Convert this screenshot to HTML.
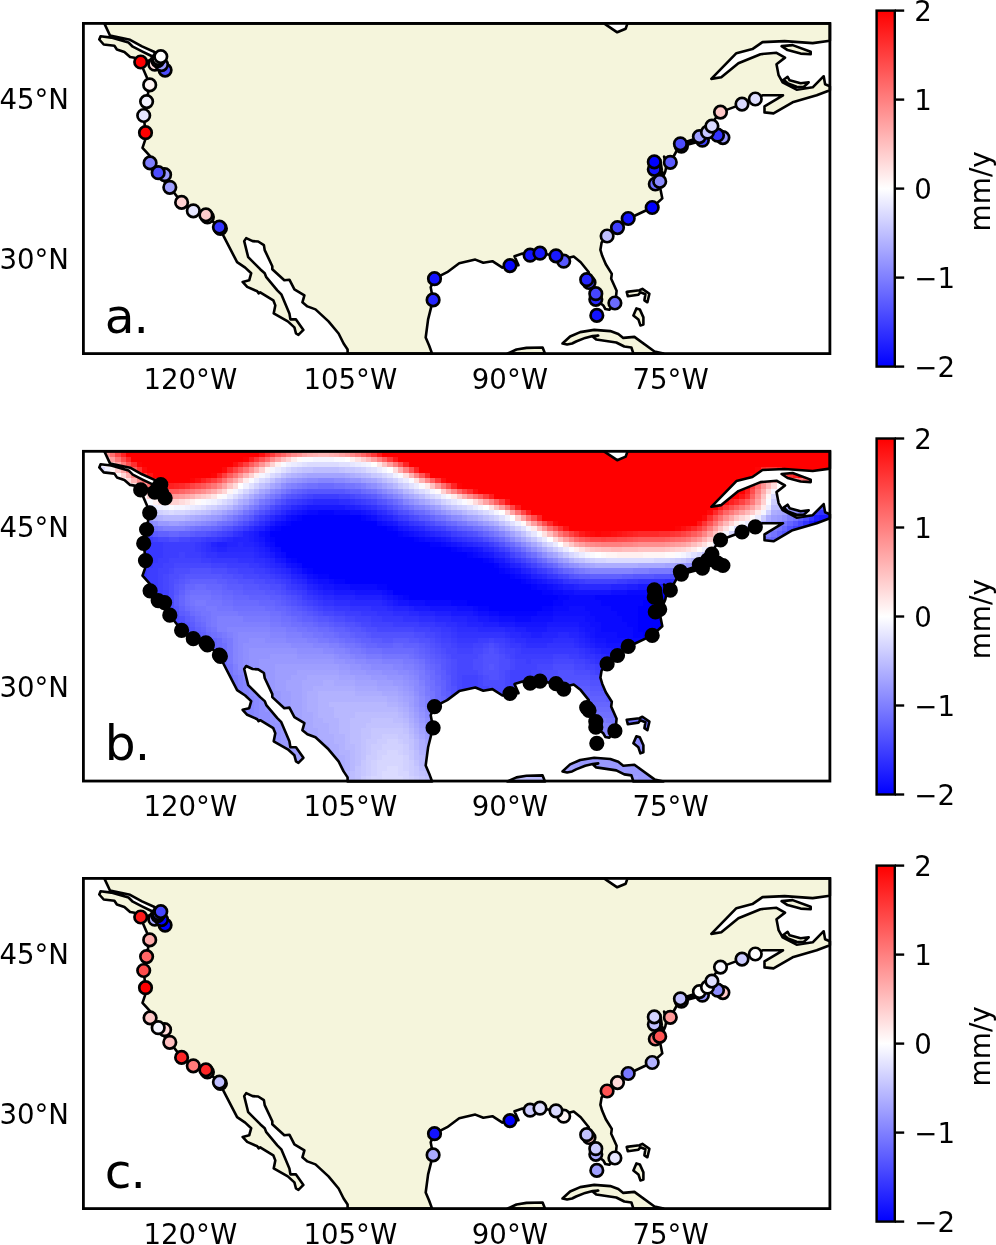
<!DOCTYPE html>
<html lang="en"><head><meta charset="utf-8"><title>Vertical land motion maps</title>
<style>html,body{margin:0;padding:0;background:#fff}svg{display:block}text{font-family:"DejaVu Sans","Liberation Sans",sans-serif;fill:#000}.t{font-size:27.60px}.big{font-size:48.6px}</style></head><body>
<svg width="996" height="1245" viewBox="0 0 996 1245">
<defs>
<path id="land" d="M104.3 23.4 110 35.5 130.1 39.8 142 46.4 154.5 52 161 56 165 62 166.5 70 160 68 152 64 141 62 143.2 68.9 147 77.7 149.5 84.6 146.6 101.6 143.7 115.5 145.5 132.7 145.1 140.2 142.5 147.8 150.1 156.2 150.1 162.9 158.2 172.7 163 180 169.8 187.3 181.6 202.4 193.3 210.8 205.9 214.9 211 220 219.4 227.1 223.1 235.1 237.1 262.2 245.2 267.6 251.2 273.2 249.2 280.3 242.6 281.9 247.2 286.9 257.2 291.3 258.6 293.3 260.2 292.3 273.3 300.3 275.3 305.4 273.7 313.4 287.8 321.4 294.4 327.4 296 333.5 298.4 334.9 303.4 329.9 296 319.4 290.4 319.4 289.4 313.4 281.3 294.3 277.3 290.3 266.3 277.2 264.7 273.2 260.2 269.2 248.2 257.2 244.2 241.1 246.2 238.1 252.6 241.1 258.2 241.5 263.9 245.1 264.7 250.1 272.3 266.2 272.3 269.2 284.3 280.3 289.4 279.7 294.4 289.3 304.4 295.3 302.4 302.3 307.4 306.4 315.5 309.4 328.5 321.4 338.6 333.5 343.6 343.5 347.6 349.5 347.6 353.6 432.1 353.6 429.1 345.5 425.7 337.5 428.1 319.4 431.1 307.4 433.1 299.9 430.7 287.3 434.5 278.7 447.2 272.2 459.2 263.2 475.3 259.6 483.3 262.8 492.4 261.2 502.4 267.6 510 265.6 518.5 265.2 514.5 256.2 522.5 253.6 530.1 255.2 540 253.2 556 255.8 563.7 259 573.7 256.6 580.7 262.2 588.8 272.2 586.8 279.5 596.8 293.5 596.8 300.3 603.3 305.4 605.3 309 609.3 309.8 614.9 303 616 296.8 616.6 290.8 611.2 278.7 611.8 273.9 605.8 264.3 602.2 255.8 600.4 249.8 601.6 242.6 606.9 236.1 617.4 227.7 628.3 218.8 652.2 207.5 662.3 198.4 660.3 188.4 659.7 181.4 660.6 176.5 659.8 170.5 659 165 658.8 160 660.3 160 661.1 165 661.9 170.5 663.3 176.3 665.3 171.5 666.3 166.5 665.3 161.5 664.1 156.6 666.5 159.5 669 164 670.3 162.3 676 152 680.4 143.8 690 140.5 699.4 137.5 707.5 134.5 714 136.5 719 134 724.5 138.5 725 133 718 129 711.9 126.1 715 119 720.5 112.1 742 104.1 755.3 99 762.5 95.3 783 95.3 764.5 106.4 764.5 112.4 773.5 113.4 792.6 102.3 816.7 95.3 829.9 90.3 829.9 86.3 825.1 84.3 823.7 76.2 812.7 87.3 796.6 89.7 782.6 82.3 778.6 75.2 776.5 64.2 785 57.6 776.5 52.8 760.5 54.2 738.4 63.2 721.3 77.2 711.3 78.9 736.4 53.2 752.4 49.1 762.5 42.1 784.6 41.1 812.7 43.1 829.9 40.7 829.9 23.4 627.5 23.4 625.7 28.7 617.2 32.3 604 23.4ZM100.6 36.3 99.3 39.5 103.7 44.5 114.4 45.7 116.9 49.5 124.4 52 130.1 57 134.5 57.7 140.7 62 146 61.5 150.5 60 152.5 57 151.5 56 142 51.4 132.8 46.7 128.5 42.5 111.2 37.6ZM562.5 343.5 570.1 336.5 580.2 332.1 594.2 329.9 610.3 331.1 618.3 333.9 623.3 337.9 634.4 336.9 654.5 351.5 663.5 353.6 633.4 353.6 631.4 347.5 624.3 346.5 616.3 342.5 596.2 339.5 593.2 336.9 598.2 335.5 592.6 336.1 585.2 337.9 576.1 341.5 572.1 343.5 567.1 344.5ZM507.4 353.6 516.5 349.5 526.5 347.9 542.6 347.5 545 353.6ZM781.6 46.1 792.6 45.1 810.7 51.7 810.7 54.2 800.6 53.6 787.6 50.1ZM783.6 79.7 787.6 76.8 789.6 80.3 800.6 83.3 808.7 82.3 803.7 87 796.6 86.8 788 83.5ZM681 146.5 690 144 699.4 141.5 703 139.5 694 140.8 685 143.5ZM626.7 291.9 639.4 290.3 642.4 288.9 649.4 293.7 647.4 302.3 644.4 300.3 645.4 294.3 640.4 292.3 638.4 294.7 627.8 296.3ZM636.4 308.4 639.8 309.4 643.4 317.4 643.4 324.4 640.4 325.4 638.4 319.4 633.4 315.4Z"/>
<clipPath id="landclip"><use href="#land"/></clipPath>
<linearGradient id="bwr" x1="0" y1="0" x2="0" y2="1"><stop offset="0" stop-color="#ff0000"/><stop offset="0.5" stop-color="#ffffff"/><stop offset="1" stop-color="#0000ff"/></linearGradient>
</defs>
<rect width="996" height="1245" fill="#fff"/>
<g transform="translate(0 0)">
<use href="#land" fill="#f5f5dc" stroke="#000" stroke-width="2.6" stroke-linejoin="round"/>
<g stroke="#000" stroke-width="2.7">
<circle cx="165.1" cy="70.1" r="6.25" fill="#4d4dff"/>
<circle cx="154.8" cy="64.2" r="6.25" fill="#ffdfdf"/>
<circle cx="161.5" cy="64.6" r="6.25" fill="#9999ff"/>
<circle cx="157.7" cy="60.6" r="6.25" fill="#ffffff"/>
<circle cx="158.8" cy="58.7" r="6.25" fill="#ffffff"/>
<circle cx="160.8" cy="56.6" r="6.25" fill="#ffffff"/>
<circle cx="140.7" cy="62" r="6.25" fill="#ff0000"/>
<circle cx="149.7" cy="84.9" r="6.25" fill="#fff5f5"/>
<circle cx="146.6" cy="101.6" r="6.25" fill="#f2f2ff"/>
<circle cx="143.7" cy="115.5" r="6.25" fill="#e6e6ff"/>
<circle cx="145.5" cy="132.7" r="6.25" fill="#ff0000"/>
<circle cx="150.1" cy="162.9" r="6.25" fill="#8080ff"/>
<circle cx="164.6" cy="174.7" r="6.25" fill="#9999ff"/>
<circle cx="158.2" cy="172.7" r="6.25" fill="#4d4dff"/>
<circle cx="169.8" cy="187.3" r="6.25" fill="#9f9fff"/>
<circle cx="181.6" cy="202.4" r="6.25" fill="#ffd2d2"/>
<circle cx="193.3" cy="210.8" r="6.25" fill="#e6e6ff"/>
<circle cx="207.4" cy="217" r="6.25" fill="#ffffff"/>
<circle cx="205.9" cy="214.9" r="6.25" fill="#ffcccc"/>
<circle cx="220.4" cy="228.4" r="6.25" fill="#3333ff"/>
<circle cx="219.4" cy="227.1" r="6.25" fill="#3333ff"/>
<circle cx="434.5" cy="278.7" r="6.25" fill="#1313ff"/>
<circle cx="433.1" cy="299.9" r="6.25" fill="#2626ff"/>
<circle cx="510" cy="265.6" r="6.25" fill="#0606ff"/>
<circle cx="530.1" cy="255.2" r="6.25" fill="#1313ff"/>
<circle cx="540" cy="253.2" r="6.25" fill="#1919ff"/>
<circle cx="563.7" cy="261.2" r="6.25" fill="#5959ff"/>
<circle cx="556" cy="255.8" r="6.25" fill="#1919ff"/>
<circle cx="589" cy="282.5" r="6.25" fill="#4040ff"/>
<circle cx="586.7" cy="279.7" r="6.25" fill="#2626ff"/>
<circle cx="595.8" cy="299.3" r="6.25" fill="#2626ff"/>
<circle cx="595.8" cy="293.7" r="6.25" fill="#4646ff"/>
<circle cx="596.8" cy="315.4" r="6.25" fill="#1313ff"/>
<circle cx="614.9" cy="303" r="6.25" fill="#6c6cff"/>
<circle cx="607.1" cy="236" r="6.25" fill="#bfbfff"/>
<circle cx="617.5" cy="227.6" r="6.25" fill="#4040ff"/>
<circle cx="628.2" cy="218.5" r="6.25" fill="#1313ff"/>
<circle cx="652.2" cy="207.5" r="6.25" fill="#0000ff"/>
<circle cx="655.3" cy="184" r="6.25" fill="#6c6cff"/>
<circle cx="659.7" cy="181.4" r="6.25" fill="#8c8cff"/>
<circle cx="654.3" cy="169.3" r="6.25" fill="#1313ff"/>
<circle cx="654.3" cy="161.9" r="6.25" fill="#0000ff"/>
<circle cx="670.3" cy="162.3" r="6.25" fill="#5959ff"/>
<circle cx="681.4" cy="146.2" r="6.25" fill="#3333ff"/>
<circle cx="680.4" cy="143.8" r="6.25" fill="#4d4dff"/>
<circle cx="702.4" cy="140.2" r="6.25" fill="#4040ff"/>
<circle cx="699.4" cy="136.6" r="6.25" fill="#9f9fff"/>
<circle cx="722.9" cy="137.6" r="6.25" fill="#9999ff"/>
<circle cx="717.5" cy="135.2" r="6.25" fill="#3333ff"/>
<circle cx="707.5" cy="132.2" r="6.25" fill="#c6c6ff"/>
<circle cx="711.9" cy="126.1" r="6.25" fill="#d9d9ff"/>
<circle cx="720.5" cy="112.1" r="6.25" fill="#ffc8c8"/>
<circle cx="742" cy="104.1" r="6.25" fill="#d9d9ff"/>
<circle cx="755.3" cy="99" r="6.25" fill="#dfdfff"/>
</g>
<rect x="83.4" y="23.4" width="746.5" height="330.2" fill="none" stroke="#000" stroke-width="2.8"/>
<text class="t" x="69.0" y="109.1" text-anchor="end">45°N</text>
<text class="t" x="69.0" y="269.1" text-anchor="end">30°N</text>
<text class="t" x="190.3" y="389.4" text-anchor="middle">120°W</text>
<text class="t" x="350.3" y="389.4" text-anchor="middle">105°W</text>
<text class="t" x="509.9" y="389.4" text-anchor="middle">90°W</text>
<text class="t" x="670.6" y="389.4" text-anchor="middle">75°W</text>
<text class="big" x="104.8" y="332.8">a<tspan dx="-1">.</tspan></text>
<rect x="876.6" y="10.6" width="18.2" height="356" fill="url(#bwr)" stroke="#000" stroke-width="2.4"/>
<path d="M894.8 10.6h9.4" stroke="#000" stroke-width="2.4"/>
<text class="t" x="914.3" y="20.9">2</text>
<path d="M894.8 99.6h9.4" stroke="#000" stroke-width="2.4"/>
<text class="t" x="914.3" y="109.9">1</text>
<path d="M894.8 188.6h9.4" stroke="#000" stroke-width="2.4"/>
<text class="t" x="914.3" y="198.9">0</text>
<path d="M894.8 277.6h9.4" stroke="#000" stroke-width="2.4"/>
<text class="t" x="914.3" y="287.9">−1</text>
<path d="M894.8 366.6h9.4" stroke="#000" stroke-width="2.4"/>
<text class="t" x="914.3" y="376.9">−2</text>
<text class="t" transform="translate(989.7 191.3) rotate(-90)" style="font-size:27.9px" text-anchor="middle">mm/y</text>
</g>
<g transform="translate(0 427.9)">
<g clip-path="url(#landclip)" shape-rendering="crispEdges"><path fill="#0000ff" d="M302.02 87.31H360.67V92.64H302.02zM291.35 92.64H376.67V97.96H291.35zM280.69 97.96H387.33V103.29H280.69zM270.02 103.29H398V108.61H270.02zM275.36 108.61H413.99V113.94H275.36zM275.36 113.94H429.99V119.26H275.36zM280.69 119.26H451.32V124.59H280.69zM286.02 124.59H467.31V129.92H286.02zM296.69 129.92H483.31V135.24H296.69zM302.02 135.24H493.98V140.57H302.02zM312.68 140.57H499.31V145.89H312.68zM328.68 145.89H509.97V151.22H328.68zM344.68 151.22H520.64V156.55H344.68zM387.33 156.55H531.3V161.87H387.33zM392.66 161.87H541.96V167.2H392.66zM408.66 167.2H557.96V172.52H408.66zM648.61 167.2H739.25V172.52H648.61zM467.31 172.52H552.63V177.85H467.31zM643.27 172.52H739.25V177.85H643.27zM488.64 177.85H541.96V183.17H488.64zM637.94 177.85H733.92V183.17H637.94zM637.94 183.17H733.92V188.5H637.94zM637.94 188.5H728.59V193.83H637.94zM637.94 193.83H723.26V199.15H637.94zM637.94 199.15H712.59V204.48H637.94zM643.27 204.48H696.6V209.8H643.27z"/><path fill="#0505ff" d="M318.01 81.98H334.01V87.31H318.01zM296.69 87.31H302.02V92.64H296.69zM360.67 87.31H366V92.64H360.67zM286.02 92.64H291.35V97.96H286.02zM275.36 97.96H280.69V103.29H275.36zM387.33 97.96H392.66V103.29H387.33zM398 103.29H403.33V108.61H398zM270.02 108.61H275.36V113.94H270.02zM413.99 108.61H419.33V113.94H413.99zM429.99 113.94H440.65V119.26H429.99zM451.32 119.26H456.65V124.59H451.32zM467.31 124.59H472.65V129.92H467.31zM291.35 129.92H296.69V135.24H291.35zM483.31 129.92H488.64V135.24H483.31zM493.98 135.24H499.31V140.57H493.98zM307.35 140.57H312.68V145.89H307.35zM499.31 140.57H504.64V145.89H499.31zM318.01 145.89H328.68V151.22H318.01zM509.97 145.89H515.3V151.22H509.97zM334.01 151.22H344.68V156.55H334.01zM520.64 151.22H525.97V156.55H520.64zM376.67 156.55H387.33V161.87H376.67zM531.3 156.55H536.63V161.87H531.3zM541.96 161.87H552.63V167.2H541.96zM659.27 161.87H691.26V167.2H659.27zM403.33 167.2H408.66V172.52H403.33zM557.96 167.2H568.62V172.52H557.96zM595.29 167.2H648.61V172.52H595.29zM451.32 172.52H467.31V177.85H451.32zM552.63 172.52H563.29V177.85H552.63zM600.62 172.52H643.27V177.85H600.62zM477.98 177.85H488.64V183.17H477.98zM541.96 177.85H552.63V183.17H541.96zM611.28 177.85H637.94V183.17H611.28zM499.31 183.17H536.63V188.5H499.31zM616.61 183.17H637.94V188.5H616.61zM621.95 188.5H637.94V193.83H621.95zM627.28 193.83H637.94V199.15H627.28zM632.61 199.15H637.94V204.48H632.61zM632.61 204.48H643.27V209.8H632.61zM643.27 209.8H653.94V215.13H643.27z"/><path fill="#0a0aff" d="M307.35 81.98H318.01V87.31H307.35zM334.01 81.98H350.01V87.31H334.01zM291.35 87.31H296.69V92.64H291.35zM366 87.31H371.34V92.64H366zM280.69 92.64H286.02V97.96H280.69zM376.67 92.64H382V97.96H376.67zM813.9 92.64H829.9V97.96H813.9zM270.02 97.96H275.36V103.29H270.02zM392.66 97.96H398V103.29H392.66zM264.69 103.29H270.02V108.61H264.69zM403.33 103.29H408.66V108.61H403.33zM264.69 108.61H270.02V113.94H264.69zM419.33 108.61H424.66V113.94H419.33zM270.02 113.94H275.36V119.26H270.02zM440.65 113.94H445.99V119.26H440.65zM275.36 119.26H280.69V124.59H275.36zM456.65 119.26H461.98V124.59H456.65zM280.69 124.59H286.02V129.92H280.69zM472.65 124.59H477.98V129.92H472.65zM286.02 129.92H291.35V135.24H286.02zM488.64 129.92H493.98V135.24H488.64zM296.69 135.24H302.02V140.57H296.69zM302.02 140.57H307.35V145.89H302.02zM504.64 140.57H509.97V145.89H504.64zM312.68 145.89H318.01V151.22H312.68zM515.3 145.89H520.64V151.22H515.3zM328.68 151.22H334.01V156.55H328.68zM525.97 151.22H531.3V156.55H525.97zM350.01 156.55H376.67V161.87H350.01zM536.63 156.55H547.3V161.87H536.63zM387.33 161.87H392.66V167.2H387.33zM552.63 161.87H563.29V167.2H552.63zM627.28 161.87H659.27V167.2H627.28zM398 167.2H403.33V172.52H398zM568.62 167.2H595.29V172.52H568.62zM424.66 172.52H451.32V177.85H424.66zM563.29 172.52H600.62V177.85H563.29zM472.65 177.85H477.98V183.17H472.65zM552.63 177.85H568.62V183.17H552.63zM584.62 177.85H611.28V183.17H584.62zM488.64 183.17H499.31V188.5H488.64zM536.63 183.17H552.63V188.5H536.63zM589.95 183.17H616.61V188.5H589.95zM515.3 188.5H531.3V193.83H515.3zM595.29 188.5H621.95V193.83H595.29zM600.62 193.83H627.28V199.15H600.62zM600.62 199.15H632.61V204.48H600.62zM616.61 204.48H632.61V209.8H616.61zM627.28 209.8H643.27V215.13H627.28z"/><path fill="#0f0fff" d="M302.02 81.98H307.35V87.31H302.02zM350.01 81.98H360.67V87.31H350.01zM286.02 87.31H291.35V92.64H286.02zM371.34 87.31H376.67V92.64H371.34zM275.36 92.64H280.69V97.96H275.36zM382 92.64H387.33V97.96H382zM259.36 103.29H264.69V108.61H259.36zM408.66 103.29H413.99V108.61H408.66zM424.66 108.61H435.32V113.94H424.66zM264.69 113.94H270.02V119.26H264.69zM445.99 113.94H451.32V119.26H445.99zM270.02 119.26H275.36V124.59H270.02zM461.98 119.26H472.65V124.59H461.98zM275.36 124.59H280.69V129.92H275.36zM477.98 124.59H483.31V129.92H477.98zM291.35 135.24H296.69V140.57H291.35zM499.31 135.24H504.64V140.57H499.31zM509.97 140.57H515.3V145.89H509.97zM307.35 145.89H312.68V151.22H307.35zM520.64 145.89H525.97V151.22H520.64zM318.01 151.22H328.68V156.55H318.01zM531.3 151.22H536.63V156.55H531.3zM334.01 156.55H350.01V161.87H334.01zM547.3 156.55H552.63V161.87H547.3zM382 161.87H387.33V167.2H382zM563.29 161.87H573.96V167.2H563.29zM611.28 161.87H627.28V167.2H611.28zM392.66 167.2H398V172.52H392.66zM408.66 172.52H424.66V177.85H408.66zM456.65 177.85H472.65V183.17H456.65zM568.62 177.85H584.62V183.17H568.62zM477.98 183.17H488.64V188.5H477.98zM552.63 183.17H589.95V188.5H552.63zM499.31 188.5H515.3V193.83H499.31zM531.3 188.5H552.63V193.83H531.3zM584.62 188.5H595.29V193.83H584.62zM589.95 193.83H600.62V199.15H589.95zM595.29 199.15H600.62V204.48H595.29zM595.29 204.48H616.61V209.8H595.29zM605.95 209.8H627.28V215.13H605.95zM627.28 215.13H637.94V220.45H627.28z"/><path fill="#1414ff" d="M296.69 81.98H302.02V87.31H296.69zM360.67 81.98H366V87.31H360.67zM387.33 92.64H392.66V97.96H387.33zM264.69 97.96H270.02V103.29H264.69zM398 97.96H403.33V103.29H398zM413.99 103.29H419.33V108.61H413.99zM259.36 108.61H264.69V113.94H259.36zM435.32 108.61H440.65V113.94H435.32zM451.32 113.94H456.65V119.26H451.32zM472.65 119.26H477.98V124.59H472.65zM483.31 124.59H488.64V129.92H483.31zM280.69 129.92H286.02V135.24H280.69zM493.98 129.92H499.31V135.24H493.98zM286.02 135.24H291.35V140.57H286.02zM504.64 135.24H509.97V140.57H504.64zM296.69 140.57H302.02V145.89H296.69zM515.3 140.57H520.64V145.89H515.3zM525.97 145.89H531.3V151.22H525.97zM312.68 151.22H318.01V156.55H312.68zM536.63 151.22H541.96V156.55H536.63zM323.35 156.55H334.01V161.87H323.35zM552.63 156.55H557.96V161.87H552.63zM669.94 156.55H685.93V161.87H669.94zM355.34 161.87H382V167.2H355.34zM573.96 161.87H611.28V167.2H573.96zM387.33 167.2H392.66V172.52H387.33zM398 172.52H408.66V177.85H398zM429.99 177.85H456.65V183.17H429.99zM472.65 183.17H477.98V188.5H472.65zM488.64 188.5H499.31V193.83H488.64zM552.63 188.5H584.62V193.83H552.63zM515.3 193.83H547.3V199.15H515.3zM579.29 193.83H589.95V199.15H579.29zM584.62 199.15H595.29V204.48H584.62zM589.95 204.48H595.29V209.8H589.95zM595.29 209.8H605.95V215.13H595.29zM605.95 215.13H627.28V220.45H605.95z"/><path fill="#1919ff" d="M307.35 76.66H344.68V81.98H307.35zM291.35 81.98H296.69V87.31H291.35zM366 81.98H371.34V87.31H366zM280.69 87.31H286.02V92.64H280.69zM376.67 87.31H382V92.64H376.67zM819.24 87.31H829.9V92.64H819.24zM270.02 92.64H275.36V97.96H270.02zM392.66 92.64H398V97.96H392.66zM403.33 97.96H408.66V103.29H403.33zM254.03 103.29H259.36V108.61H254.03zM419.33 103.29H424.66V108.61H419.33zM254.03 108.61H259.36V113.94H254.03zM440.65 108.61H445.99V113.94H440.65zM259.36 113.94H264.69V119.26H259.36zM456.65 113.94H461.98V119.26H456.65zM264.69 119.26H270.02V124.59H264.69zM477.98 119.26H483.31V124.59H477.98zM270.02 124.59H275.36V129.92H270.02zM488.64 124.59H493.98V129.92H488.64zM275.36 129.92H280.69V135.24H275.36zM499.31 129.92H504.64V135.24H499.31zM291.35 140.57H296.69V145.89H291.35zM302.02 145.89H307.35V151.22H302.02zM307.35 151.22H312.68V156.55H307.35zM541.96 151.22H547.3V156.55H541.96zM318.01 156.55H323.35V161.87H318.01zM557.96 156.55H563.29V161.87H557.96zM637.94 156.55H669.94V161.87H637.94zM334.01 161.87H355.34V167.2H334.01zM382 167.2H387.33V172.52H382zM392.66 172.52H398V177.85H392.66zM413.99 177.85H429.99V183.17H413.99zM451.32 183.17H472.65V188.5H451.32zM477.98 188.5H488.64V193.83H477.98zM499.31 193.83H515.3V199.15H499.31zM547.3 193.83H579.29V199.15H547.3zM525.97 199.15H547.3V204.48H525.97zM579.29 199.15H584.62V204.48H579.29zM584.62 204.48H589.95V209.8H584.62zM589.95 209.8H595.29V215.13H589.95zM595.29 215.13H605.95V220.45H595.29zM611.28 220.45H627.28V225.78H611.28z"/><path fill="#1f1fff" d="M302.02 76.66H307.35V81.98H302.02zM344.68 76.66H355.34V81.98H344.68zM286.02 81.98H291.35V87.31H286.02zM371.34 81.98H376.67V87.31H371.34zM275.36 87.31H280.69V92.64H275.36zM382 87.31H387.33V92.64H382zM813.9 87.31H819.24V92.64H813.9zM808.57 92.64H813.9V97.96H808.57zM259.36 97.96H264.69V103.29H259.36zM408.66 97.96H413.99V103.29H408.66zM803.24 97.96H808.57V103.29H803.24zM248.7 103.29H254.03V108.61H248.7zM424.66 103.29H429.99V108.61H424.66zM248.7 108.61H254.03V113.94H248.7zM445.99 108.61H451.32V113.94H445.99zM216.7 113.94H227.37V119.26H216.7zM254.03 113.94H259.36V119.26H254.03zM461.98 113.94H467.31V119.26H461.98zM259.36 119.26H264.69V124.59H259.36zM264.69 124.59H270.02V129.92H264.69zM280.69 135.24H286.02V140.57H280.69zM509.97 135.24H515.3V140.57H509.97zM520.64 140.57H525.97V145.89H520.64zM296.69 145.89H302.02V151.22H296.69zM531.3 145.89H536.63V151.22H531.3zM547.3 151.22H552.63V156.55H547.3zM312.68 156.55H318.01V161.87H312.68zM563.29 156.55H573.96V161.87H563.29zM627.28 156.55H637.94V161.87H627.28zM323.35 161.87H334.01V167.2H323.35zM355.34 167.2H382V172.52H355.34zM387.33 172.52H392.66V177.85H387.33zM408.66 177.85H413.99V183.17H408.66zM435.32 183.17H451.32V188.5H435.32zM467.31 188.5H477.98V193.83H467.31zM483.31 193.83H499.31V199.15H483.31zM515.3 199.15H525.97V204.48H515.3zM547.3 199.15H579.29V204.48H547.3zM531.3 204.48H541.96V209.8H531.3zM579.29 204.48H584.62V209.8H579.29zM584.62 209.8H589.95V215.13H584.62zM589.95 215.13H595.29V220.45H589.95zM600.62 220.45H611.28V225.78H600.62zM616.61 225.78H627.28V231.11H616.61z"/><path fill="#2424ff" d="M296.69 76.66H302.02V81.98H296.69zM355.34 76.66H360.67V81.98H355.34zM387.33 87.31H392.66V92.64H387.33zM264.69 92.64H270.02V97.96H264.69zM398 92.64H403.33V97.96H398zM254.03 97.96H259.36V103.29H254.03zM413.99 97.96H419.33V103.29H413.99zM243.36 103.29H248.7V108.61H243.36zM429.99 103.29H435.32V108.61H429.99zM232.7 108.61H248.7V113.94H232.7zM211.37 113.94H216.7V119.26H211.37zM227.37 113.94H238.03V119.26H227.37zM243.36 113.94H254.03V119.26H243.36zM467.31 113.94H472.65V119.26H467.31zM216.7 119.26H227.37V124.59H216.7zM254.03 119.26H259.36V124.59H254.03zM483.31 119.26H488.64V124.59H483.31zM259.36 124.59H264.69V129.92H259.36zM493.98 124.59H499.31V129.92H493.98zM270.02 129.92H275.36V135.24H270.02zM504.64 129.92H509.97V135.24H504.64zM275.36 135.24H280.69V140.57H275.36zM515.3 135.24H520.64V140.57H515.3zM286.02 140.57H291.35V145.89H286.02zM525.97 140.57H531.3V145.89H525.97zM291.35 145.89H296.69V151.22H291.35zM536.63 145.89H541.96V151.22H536.63zM302.02 151.22H307.35V156.55H302.02zM552.63 151.22H557.96V156.55H552.63zM307.35 156.55H312.68V161.87H307.35zM573.96 156.55H579.29V161.87H573.96zM611.28 156.55H627.28V161.87H611.28zM318.01 161.87H323.35V167.2H318.01zM334.01 167.2H355.34V172.52H334.01zM382 172.52H387.33V177.85H382zM392.66 177.85H408.66V183.17H392.66zM419.33 183.17H435.32V188.5H419.33zM451.32 188.5H467.31V193.83H451.32zM467.31 193.83H483.31V199.15H467.31zM504.64 199.15H515.3V204.48H504.64zM520.64 204.48H531.3V209.8H520.64zM541.96 204.48H557.96V209.8H541.96zM568.62 204.48H579.29V209.8H568.62zM579.29 209.8H584.62V215.13H579.29zM584.62 215.13H589.95V220.45H584.62zM595.29 220.45H600.62V225.78H595.29zM605.95 225.78H616.61V231.11H605.95z"/><path fill="#2929ff" d="M312.68 71.33H339.34V76.66H312.68zM291.35 76.66H296.69V81.98H291.35zM360.67 76.66H366V81.98H360.67zM280.69 81.98H286.02V87.31H280.69zM376.67 81.98H382V87.31H376.67zM270.02 87.31H275.36V92.64H270.02zM403.33 92.64H408.66V97.96H403.33zM419.33 97.96H424.66V103.29H419.33zM435.32 103.29H440.65V108.61H435.32zM227.37 108.61H232.7V113.94H227.37zM451.32 108.61H456.65V113.94H451.32zM238.03 113.94H243.36V119.26H238.03zM472.65 113.94H477.98V119.26H472.65zM211.37 119.26H216.7V124.59H211.37zM227.37 119.26H254.03V124.59H227.37zM488.64 119.26H493.98V124.59H488.64zM254.03 124.59H259.36V129.92H254.03zM499.31 124.59H504.64V129.92H499.31zM264.69 129.92H270.02V135.24H264.69zM270.02 135.24H275.36V140.57H270.02zM280.69 140.57H286.02V145.89H280.69zM541.96 145.89H547.3V151.22H541.96zM296.69 151.22H302.02V156.55H296.69zM557.96 151.22H563.29V156.55H557.96zM579.29 156.55H611.28V161.87H579.29zM312.68 161.87H318.01V167.2H312.68zM323.35 167.2H334.01V172.52H323.35zM350.01 172.52H382V177.85H350.01zM387.33 177.85H392.66V183.17H387.33zM408.66 183.17H419.33V188.5H408.66zM435.32 188.5H451.32V193.83H435.32zM456.65 193.83H467.31V199.15H456.65zM477.98 199.15H504.64V204.48H477.98zM509.97 204.48H520.64V209.8H509.97zM557.96 204.48H568.62V209.8H557.96zM525.97 209.8H552.63V215.13H525.97zM573.96 209.8H579.29V215.13H573.96zM579.29 215.13H584.62V220.45H579.29zM589.95 220.45H595.29V225.78H589.95zM600.62 225.78H605.95V231.11H600.62zM611.28 231.11H621.95V236.43H611.28z"/><path fill="#2e2eff" d="M307.35 71.33H312.68V76.66H307.35zM339.34 71.33H350.01V76.66H339.34zM366 76.66H371.34V81.98H366zM382 81.98H387.33V87.31H382zM392.66 87.31H398V92.64H392.66zM259.36 92.64H264.69V97.96H259.36zM248.7 97.96H254.03V103.29H248.7zM238.03 103.29H243.36V108.61H238.03zM440.65 103.29H445.99V108.61H440.65zM222.04 108.61H227.37V113.94H222.04zM456.65 108.61H461.98V113.94H456.65zM206.04 113.94H211.37V119.26H206.04zM477.98 113.94H483.31V119.26H477.98zM206.04 119.26H211.37V124.59H206.04zM216.7 124.59H254.03V129.92H216.7zM254.03 129.92H264.69V135.24H254.03zM509.97 129.92H515.3V135.24H509.97zM264.69 135.24H270.02V140.57H264.69zM520.64 135.24H525.97V140.57H520.64zM275.36 140.57H280.69V145.89H275.36zM531.3 140.57H536.63V145.89H531.3zM286.02 145.89H291.35V151.22H286.02zM291.35 151.22H296.69V156.55H291.35zM664.6 151.22H680.6V156.55H664.6zM302.02 156.55H307.35V161.87H302.02zM307.35 161.87H312.68V167.2H307.35zM318.01 167.2H323.35V172.52H318.01zM334.01 172.52H350.01V177.85H334.01zM371.34 177.85H387.33V183.17H371.34zM392.66 183.17H408.66V188.5H392.66zM419.33 188.5H435.32V193.83H419.33zM445.99 193.83H456.65V199.15H445.99zM456.65 199.15H477.98V204.48H456.65zM504.64 204.48H509.97V209.8H504.64zM515.3 209.8H525.97V215.13H515.3zM552.63 209.8H573.96V215.13H552.63zM525.97 215.13H547.3V220.45H525.97zM573.96 215.13H579.29V220.45H573.96zM584.62 220.45H589.95V225.78H584.62zM595.29 225.78H600.62V231.11H595.29zM605.95 231.11H611.28V236.43H605.95z"/><path fill="#3333ff" d="M302.02 71.33H307.35V76.66H302.02zM350.01 71.33H355.34V76.66H350.01zM286.02 76.66H291.35V81.98H286.02zM371.34 76.66H376.67V81.98H371.34zM275.36 81.98H280.69V87.31H275.36zM819.24 81.98H829.9V87.31H819.24zM264.69 87.31H270.02V92.64H264.69zM808.57 87.31H813.9V92.64H808.57zM408.66 92.64H413.99V97.96H408.66zM803.24 92.64H808.57V97.96H803.24zM424.66 97.96H429.99V103.29H424.66zM797.91 97.96H803.24V103.29H797.91zM232.7 103.29H238.03V108.61H232.7zM445.99 103.29H451.32V108.61H445.99zM216.7 108.61H222.04V113.94H216.7zM461.98 108.61H467.31V113.94H461.98zM200.71 113.94H206.04V119.26H200.71zM483.31 113.94H488.64V119.26H483.31zM200.71 119.26H206.04V124.59H200.71zM493.98 119.26H499.31V124.59H493.98zM206.04 124.59H216.7V129.92H206.04zM504.64 124.59H509.97V129.92H504.64zM238.03 129.92H254.03V135.24H238.03zM259.36 135.24H264.69V140.57H259.36zM723.26 135.24H728.59V140.57H723.26zM270.02 140.57H275.36V145.89H270.02zM280.69 145.89H286.02V151.22H280.69zM547.3 145.89H552.63V151.22H547.3zM563.29 151.22H568.62V156.55H563.29zM637.94 151.22H664.6V156.55H637.94zM296.69 156.55H302.02V161.87H296.69zM312.68 167.2H318.01V172.52H312.68zM323.35 172.52H334.01V177.85H323.35zM350.01 177.85H371.34V183.17H350.01zM376.67 183.17H392.66V188.5H376.67zM403.33 188.5H419.33V193.83H403.33zM435.32 193.83H445.99V199.15H435.32zM451.32 199.15H456.65V204.48H451.32zM456.65 204.48H504.64V209.8H456.65zM509.97 209.8H515.3V215.13H509.97zM520.64 215.13H525.97V220.45H520.64zM547.3 215.13H573.96V220.45H547.3zM579.29 220.45H584.62V225.78H579.29zM584.62 225.78H595.29V231.11H584.62zM595.29 231.11H605.95V236.43H595.29zM605.95 236.43H616.61V241.76H605.95z"/><path fill="#3838ff" d="M296.69 71.33H302.02V76.66H296.69zM355.34 71.33H360.67V76.66H355.34zM280.69 76.66H286.02V81.98H280.69zM387.33 81.98H392.66V87.31H387.33zM813.9 81.98H819.24V87.31H813.9zM398 87.31H403.33V92.64H398zM254.03 92.64H259.36V97.96H254.03zM413.99 92.64H419.33V97.96H413.99zM243.36 97.96H248.7V103.29H243.36zM429.99 97.96H435.32V103.29H429.99zM131.39 108.61H147.39V113.94H131.39zM206.04 108.61H216.7V113.94H206.04zM467.31 108.61H472.65V113.94H467.31zM115.39 113.94H163.38V119.26H115.39zM195.38 113.94H200.71V119.26H195.38zM110.06 119.26H163.38V124.59H110.06zM195.38 119.26H200.71V124.59H195.38zM104.73 124.59H163.38V129.92H104.73zM200.71 124.59H206.04V129.92H200.71zM99.4 129.92H158.05V135.24H99.4zM211.37 129.92H238.03V135.24H211.37zM515.3 129.92H520.64V135.24H515.3zM99.4 135.24H152.72V140.57H99.4zM248.7 135.24H259.36V140.57H248.7zM525.97 135.24H531.3V140.57H525.97zM131.39 140.57H147.39V145.89H131.39zM264.69 140.57H270.02V145.89H264.69zM536.63 140.57H541.96V145.89H536.63zM136.72 145.89H147.39V151.22H136.72zM275.36 145.89H280.69V151.22H275.36zM552.63 145.89H557.96V151.22H552.63zM136.72 151.22H147.39V156.55H136.72zM286.02 151.22H291.35V156.55H286.02zM568.62 151.22H579.29V156.55H568.62zM627.28 151.22H637.94V156.55H627.28zM142.05 156.55H152.72V161.87H142.05zM291.35 156.55H296.69V161.87H291.35zM147.39 161.87H158.05V167.2H147.39zM302.02 161.87H307.35V167.2H302.02zM152.72 167.2H158.05V172.52H152.72zM307.35 167.2H312.68V172.52H307.35zM152.72 172.52H163.38V177.85H152.72zM318.01 172.52H323.35V177.85H318.01zM152.72 177.85H163.38V183.17H152.72zM334.01 177.85H350.01V183.17H334.01zM360.67 183.17H376.67V188.5H360.67zM382 188.5H403.33V193.83H382zM419.33 193.83H435.32V199.15H419.33zM440.65 199.15H451.32V204.48H440.65zM451.32 204.48H456.65V209.8H451.32zM456.65 209.8H477.98V215.13H456.65zM504.64 209.8H509.97V215.13H504.64zM509.97 215.13H520.64V220.45H509.97zM520.64 220.45H579.29V225.78H520.64zM579.29 225.78H584.62V231.11H579.29zM589.95 231.11H595.29V236.43H589.95zM600.62 236.43H605.95V241.76H600.62z"/><path fill="#3d3dff" d="M312.68 66.01H339.34V71.33H312.68zM291.35 71.33H296.69V76.66H291.35zM360.67 71.33H366V76.66H360.67zM376.67 76.66H382V81.98H376.67zM270.02 81.98H275.36V87.31H270.02zM259.36 87.31H264.69V92.64H259.36zM403.33 87.31H408.66V92.64H403.33zM419.33 92.64H424.66V97.96H419.33zM435.32 97.96H440.65V103.29H435.32zM227.37 103.29H232.7V108.61H227.37zM451.32 103.29H456.65V108.61H451.32zM147.39 108.61H152.72V113.94H147.39zM200.71 108.61H206.04V113.94H200.71zM472.65 108.61H477.98V113.94H472.65zM163.38 113.94H195.38V119.26H163.38zM488.64 113.94H493.98V119.26H488.64zM163.38 119.26H195.38V124.59H163.38zM499.31 119.26H504.64V124.59H499.31zM163.38 124.59H179.38V129.92H163.38zM184.71 124.59H200.71V129.92H184.71zM158.05 129.92H168.71V135.24H158.05zM200.71 129.92H211.37V135.24H200.71zM152.72 135.24H163.38V140.57H152.72zM227.37 135.24H248.7V140.57H227.37zM147.39 140.57H158.05V145.89H147.39zM254.03 140.57H264.69V145.89H254.03zM541.96 140.57H547.3V145.89H541.96zM147.39 145.89H158.05V151.22H147.39zM270.02 145.89H275.36V151.22H270.02zM147.39 151.22H158.05V156.55H147.39zM280.69 151.22H286.02V156.55H280.69zM579.29 151.22H584.62V156.55H579.29zM616.61 151.22H627.28V156.55H616.61zM152.72 156.55H158.05V161.87H152.72zM286.02 156.55H291.35V161.87H286.02zM158.05 161.87H163.38V167.2H158.05zM296.69 161.87H302.02V167.2H296.69zM158.05 167.2H163.38V172.52H158.05zM302.02 167.2H307.35V172.52H302.02zM312.68 172.52H318.01V177.85H312.68zM323.35 177.85H334.01V183.17H323.35zM344.68 183.17H360.67V188.5H344.68zM371.34 188.5H382V193.83H371.34zM392.66 193.83H419.33V199.15H392.66zM429.99 199.15H440.65V204.48H429.99zM440.65 204.48H451.32V209.8H440.65zM451.32 209.8H456.65V215.13H451.32zM477.98 209.8H488.64V215.13H477.98zM493.98 209.8H504.64V215.13H493.98zM456.65 215.13H472.65V220.45H456.65zM504.64 215.13H509.97V220.45H504.64zM515.3 220.45H520.64V225.78H515.3zM515.3 225.78H552.63V231.11H515.3zM568.62 225.78H579.29V231.11H568.62zM525.97 231.11H531.3V236.43H525.97zM584.62 231.11H589.95V236.43H584.62zM595.29 236.43H600.62V241.76H595.29z"/><path fill="#4242ff" d="M307.35 66.01H312.68V71.33H307.35zM339.34 66.01H350.01V71.33H339.34zM286.02 71.33H291.35V76.66H286.02zM366 71.33H371.34V76.66H366zM275.36 76.66H280.69V81.98H275.36zM382 76.66H387.33V81.98H382zM392.66 81.98H398V87.31H392.66zM248.7 92.64H254.03V97.96H248.7zM238.03 97.96H243.36V103.29H238.03zM440.65 97.96H445.99V103.29H440.65zM792.58 97.96H797.91V103.29H792.58zM222.04 103.29H227.37V108.61H222.04zM456.65 103.29H461.98V108.61H456.65zM787.24 103.29H792.58V108.61H787.24zM152.72 108.61H158.05V113.94H152.72zM190.04 108.61H200.71V113.94H190.04zM477.98 108.61H483.31V113.94H477.98zM179.38 124.59H184.71V129.92H179.38zM509.97 124.59H515.3V129.92H509.97zM168.71 129.92H200.71V135.24H168.71zM520.64 129.92H525.97V135.24H520.64zM163.38 135.24H174.05V140.57H163.38zM211.37 135.24H227.37V140.57H211.37zM531.3 135.24H536.63V140.57H531.3zM717.92 135.24H723.26V140.57H717.92zM158.05 140.57H168.71V145.89H158.05zM238.03 140.57H254.03V145.89H238.03zM158.05 145.89H163.38V151.22H158.05zM259.36 145.89H270.02V151.22H259.36zM557.96 145.89H563.29V151.22H557.96zM158.05 151.22H163.38V156.55H158.05zM275.36 151.22H280.69V156.55H275.36zM584.62 151.22H616.61V156.55H584.62zM158.05 156.55H163.38V161.87H158.05zM163.38 161.87H168.71V167.2H163.38zM291.35 161.87H296.69V167.2H291.35zM163.38 167.2H168.71V172.52H163.38zM163.38 172.52H168.71V177.85H163.38zM307.35 172.52H312.68V177.85H307.35zM163.38 177.85H168.71V183.17H163.38zM318.01 177.85H323.35V183.17H318.01zM163.38 183.17H168.71V188.5H163.38zM334.01 183.17H344.68V188.5H334.01zM355.34 188.5H371.34V193.83H355.34zM371.34 193.83H392.66V199.15H371.34zM413.99 199.15H429.99V204.48H413.99zM435.32 204.48H440.65V209.8H435.32zM440.65 209.8H451.32V215.13H440.65zM488.64 209.8H493.98V215.13H488.64zM451.32 215.13H456.65V220.45H451.32zM472.65 215.13H483.31V220.45H472.65zM499.31 215.13H504.64V220.45H499.31zM456.65 220.45H472.65V225.78H456.65zM504.64 220.45H515.3V225.78H504.64zM509.97 225.78H515.3V231.11H509.97zM552.63 225.78H568.62V231.11H552.63zM515.3 231.11H525.97V236.43H515.3zM531.3 231.11H552.63V236.43H531.3zM573.96 231.11H584.62V236.43H573.96zM515.3 236.43H536.63V241.76H515.3zM584.62 236.43H595.29V241.76H584.62zM509.97 241.76H531.3V247.08H509.97zM595.29 241.76H605.95V247.08H595.29zM461.98 247.08H477.98V252.41H461.98zM509.97 247.08H531.3V252.41H509.97zM461.98 252.41H477.98V257.74H461.98zM509.97 252.41H531.3V257.74H509.97zM461.98 257.74H477.98V263.06H461.98zM515.3 257.74H525.97V263.06H515.3z"/><path fill="#4747ff" d="M302.02 66.01H307.35V71.33H302.02zM350.01 66.01H355.34V71.33H350.01zM371.34 71.33H376.67V76.66H371.34zM264.69 81.98H270.02V87.31H264.69zM254.03 87.31H259.36V92.64H254.03zM408.66 87.31H413.99V92.64H408.66zM424.66 92.64H429.99V97.96H424.66zM797.91 92.64H803.24V97.96H797.91zM232.7 97.96H238.03V103.29H232.7zM216.7 103.29H222.04V108.61H216.7zM461.98 103.29H467.31V108.61H461.98zM158.05 108.61H168.71V113.94H158.05zM179.38 108.61H190.04V113.94H179.38zM493.98 113.94H499.31V119.26H493.98zM504.64 119.26H509.97V124.59H504.64zM174.05 135.24H211.37V140.57H174.05zM168.71 140.57H174.05V145.89H168.71zM227.37 140.57H238.03V145.89H227.37zM547.3 140.57H552.63V145.89H547.3zM163.38 145.89H168.71V151.22H163.38zM243.36 145.89H259.36V151.22H243.36zM563.29 145.89H568.62V151.22H563.29zM680.6 145.89H685.93V151.22H680.6zM163.38 151.22H168.71V156.55H163.38zM264.69 151.22H275.36V156.55H264.69zM163.38 156.55H168.71V161.87H163.38zM280.69 156.55H286.02V161.87H280.69zM286.02 161.87H291.35V167.2H286.02zM296.69 167.2H302.02V172.52H296.69zM302.02 172.52H307.35V177.85H302.02zM312.68 177.85H318.01V183.17H312.68zM168.71 183.17H174.05V188.5H168.71zM323.35 183.17H334.01V188.5H323.35zM168.71 188.5H174.05V193.83H168.71zM344.68 188.5H355.34V193.83H344.68zM174.05 193.83H179.38V199.15H174.05zM360.67 193.83H371.34V199.15H360.67zM174.05 199.15H179.38V204.48H174.05zM376.67 199.15H413.99V204.48H376.67zM424.66 204.48H435.32V209.8H424.66zM435.32 209.8H440.65V215.13H435.32zM440.65 215.13H451.32V220.45H440.65zM483.31 215.13H488.64V220.45H483.31zM493.98 215.13H499.31V220.45H493.98zM445.99 220.45H456.65V225.78H445.99zM472.65 220.45H483.31V225.78H472.65zM499.31 220.45H504.64V225.78H499.31zM451.32 225.78H477.98V231.11H451.32zM504.64 225.78H509.97V231.11H504.64zM456.65 231.11H472.65V236.43H456.65zM509.97 231.11H515.3V236.43H509.97zM552.63 231.11H573.96V236.43H552.63zM456.65 236.43H472.65V241.76H456.65zM509.97 236.43H515.3V241.76H509.97zM536.63 236.43H552.63V241.76H536.63zM573.96 236.43H584.62V241.76H573.96zM456.65 241.76H477.98V247.08H456.65zM504.64 241.76H509.97V247.08H504.64zM531.3 241.76H541.96V247.08H531.3zM589.95 241.76H595.29V247.08H589.95zM456.65 247.08H461.98V252.41H456.65zM477.98 247.08H483.31V252.41H477.98zM504.64 247.08H509.97V252.41H504.64zM531.3 247.08H541.96V252.41H531.3zM600.62 247.08H605.95V252.41H600.62zM456.65 252.41H461.98V257.74H456.65zM477.98 252.41H483.31V257.74H477.98zM504.64 252.41H509.97V257.74H504.64zM531.3 252.41H536.63V257.74H531.3zM456.65 257.74H461.98V263.06H456.65zM477.98 257.74H488.64V263.06H477.98zM504.64 257.74H515.3V263.06H504.64zM509.97 263.06H525.97V268.39H509.97z"/><path fill="#4d4dff" d="M296.69 66.01H302.02V71.33H296.69zM355.34 66.01H360.67V71.33H355.34zM280.69 71.33H286.02V76.66H280.69zM270.02 76.66H275.36V81.98H270.02zM387.33 76.66H392.66V81.98H387.33zM398 81.98H403.33V87.31H398zM808.57 81.98H813.9V87.31H808.57zM413.99 87.31H419.33V92.64H413.99zM803.24 87.31H808.57V92.64H803.24zM243.36 92.64H248.7V97.96H243.36zM429.99 92.64H435.32V97.96H429.99zM445.99 97.96H451.32V103.29H445.99zM142.05 103.29H147.39V108.61H142.05zM211.37 103.29H216.7V108.61H211.37zM467.31 103.29H472.65V108.61H467.31zM168.71 108.61H179.38V113.94H168.71zM483.31 108.61H488.64V113.94H483.31zM515.3 124.59H520.64V129.92H515.3zM525.97 129.92H531.3V135.24H525.97zM723.26 129.92H728.59V135.24H723.26zM536.63 135.24H541.96V140.57H536.63zM174.05 140.57H190.04V145.89H174.05zM211.37 140.57H227.37V145.89H211.37zM168.71 145.89H179.38V151.22H168.71zM232.7 145.89H243.36V151.22H232.7zM669.94 145.89H680.6V151.22H669.94zM168.71 151.22H174.05V156.55H168.71zM254.03 151.22H264.69V156.55H254.03zM168.71 156.55H174.05V161.87H168.71zM270.02 156.55H280.69V161.87H270.02zM168.71 161.87H174.05V167.2H168.71zM280.69 161.87H286.02V167.2H280.69zM168.71 167.2H174.05V172.52H168.71zM291.35 167.2H296.69V172.52H291.35zM168.71 172.52H174.05V177.85H168.71zM296.69 172.52H302.02V177.85H296.69zM168.71 177.85H174.05V183.17H168.71zM307.35 177.85H312.68V183.17H307.35zM318.01 183.17H323.35V188.5H318.01zM174.05 188.5H179.38V193.83H174.05zM334.01 188.5H344.68V193.83H334.01zM179.38 193.83H184.71V199.15H179.38zM355.34 193.83H360.67V199.15H355.34zM179.38 199.15H184.71V204.48H179.38zM366 199.15H376.67V204.48H366zM179.38 204.48H184.71V209.8H179.38zM413.99 204.48H424.66V209.8H413.99zM429.99 209.8H435.32V215.13H429.99zM435.32 215.13H440.65V220.45H435.32zM488.64 215.13H493.98V220.45H488.64zM440.65 220.45H445.99V225.78H440.65zM483.31 220.45H488.64V225.78H483.31zM493.98 220.45H499.31V225.78H493.98zM445.99 225.78H451.32V231.11H445.99zM477.98 225.78H483.31V231.11H477.98zM499.31 225.78H504.64V231.11H499.31zM451.32 231.11H456.65V236.43H451.32zM472.65 231.11H483.31V236.43H472.65zM499.31 231.11H509.97V236.43H499.31zM451.32 236.43H456.65V241.76H451.32zM472.65 236.43H483.31V241.76H472.65zM499.31 236.43H509.97V241.76H499.31zM552.63 236.43H573.96V241.76H552.63zM451.32 241.76H456.65V247.08H451.32zM477.98 241.76H483.31V247.08H477.98zM499.31 241.76H504.64V247.08H499.31zM541.96 241.76H557.96V247.08H541.96zM573.96 241.76H589.95V247.08H573.96zM451.32 247.08H456.65V252.41H451.32zM483.31 247.08H488.64V252.41H483.31zM499.31 247.08H504.64V252.41H499.31zM541.96 247.08H552.63V252.41H541.96zM589.95 247.08H600.62V252.41H589.95zM451.32 252.41H456.65V257.74H451.32zM483.31 252.41H504.64V257.74H483.31zM536.63 252.41H547.3V257.74H536.63zM600.62 252.41H611.28V257.74H600.62zM488.64 257.74H504.64V263.06H488.64zM456.65 263.06H461.98V268.39H456.65zM488.64 263.06H509.97V268.39H488.64z"/><path fill="#5252ff" d="M291.35 66.01H296.69V71.33H291.35zM360.67 66.01H366V71.33H360.67zM376.67 71.33H382V76.66H376.67zM824.57 76.66H829.9V81.98H824.57zM259.36 81.98H264.69V87.31H259.36zM403.33 81.98H408.66V87.31H403.33zM227.37 97.96H232.7V103.29H227.37zM451.32 97.96H456.65V103.29H451.32zM787.24 97.96H792.58V103.29H787.24zM147.39 103.29H152.72V108.61H147.39zM206.04 103.29H211.37V108.61H206.04zM472.65 103.29H477.98V108.61H472.65zM499.31 113.94H504.64V119.26H499.31zM712.59 135.24H717.92V140.57H712.59zM190.04 140.57H211.37V145.89H190.04zM552.63 140.57H557.96V145.89H552.63zM179.38 145.89H184.71V151.22H179.38zM222.04 145.89H232.7V151.22H222.04zM568.62 145.89H573.96V151.22H568.62zM653.94 145.89H669.94V151.22H653.94zM174.05 151.22H179.38V156.55H174.05zM238.03 151.22H254.03V156.55H238.03zM259.36 156.55H270.02V161.87H259.36zM275.36 161.87H280.69V167.2H275.36zM286.02 167.2H291.35V172.52H286.02zM291.35 172.52H296.69V177.85H291.35zM302.02 177.85H307.35V183.17H302.02zM174.05 183.17H179.38V188.5H174.05zM312.68 183.17H318.01V188.5H312.68zM179.38 188.5H184.71V193.83H179.38zM328.68 188.5H334.01V193.83H328.68zM344.68 193.83H355.34V199.15H344.68zM184.71 199.15H190.04V204.48H184.71zM360.67 199.15H366V204.48H360.67zM184.71 204.48H190.04V209.8H184.71zM371.34 204.48H413.99V209.8H371.34zM190.04 209.8H195.38V215.13H190.04zM419.33 209.8H429.99V215.13H419.33zM429.99 215.13H435.32V220.45H429.99zM435.32 220.45H440.65V225.78H435.32zM488.64 220.45H493.98V225.78H488.64zM440.65 225.78H445.99V231.11H440.65zM483.31 225.78H499.31V231.11H483.31zM445.99 231.11H451.32V236.43H445.99zM483.31 231.11H499.31V236.43H483.31zM445.99 236.43H451.32V241.76H445.99zM483.31 236.43H488.64V241.76H483.31zM493.98 236.43H499.31V241.76H493.98zM445.99 241.76H451.32V247.08H445.99zM483.31 241.76H499.31V247.08H483.31zM557.96 241.76H573.96V247.08H557.96zM488.64 247.08H499.31V252.41H488.64zM552.63 247.08H589.95V252.41H552.63zM547.3 252.41H557.96V257.74H547.3zM589.95 252.41H600.62V257.74H589.95zM451.32 257.74H456.65V263.06H451.32zM600.62 257.74H611.28V263.06H600.62zM451.32 263.06H456.65V268.39H451.32z"/><path fill="#5757ff" d="M307.35 60.68H344.68V66.01H307.35zM286.02 66.01H291.35V71.33H286.02zM366 66.01H371.34V71.33H366zM275.36 71.33H280.69V76.66H275.36zM382 71.33H387.33V76.66H382zM392.66 76.66H398V81.98H392.66zM813.9 76.66H824.57V81.98H813.9zM248.7 87.31H254.03V92.64H248.7zM419.33 87.31H424.66V92.64H419.33zM238.03 92.64H243.36V97.96H238.03zM435.32 92.64H440.65V97.96H435.32zM792.58 92.64H797.91V97.96H792.58zM222.04 97.96H227.37V103.29H222.04zM195.38 103.29H206.04V108.61H195.38zM781.91 103.29H787.24V108.61H781.91zM488.64 108.61H493.98V113.94H488.64zM509.97 119.26H515.3V124.59H509.97zM520.64 124.59H525.97V129.92H520.64zM531.3 129.92H536.63V135.24H531.3zM541.96 135.24H547.3V140.57H541.96zM696.6 140.57H701.93V145.89H696.6zM184.71 145.89H222.04V151.22H184.71zM573.96 145.89H579.29V151.22H573.96zM632.61 145.89H653.94V151.22H632.61zM179.38 151.22H184.71V156.55H179.38zM227.37 151.22H238.03V156.55H227.37zM174.05 156.55H179.38V161.87H174.05zM243.36 156.55H259.36V161.87H243.36zM174.05 161.87H179.38V167.2H174.05zM264.69 161.87H275.36V167.2H264.69zM280.69 167.2H286.02V172.52H280.69zM286.02 172.52H291.35V177.85H286.02zM174.05 177.85H179.38V183.17H174.05zM296.69 177.85H302.02V183.17H296.69zM307.35 183.17H312.68V188.5H307.35zM318.01 188.5H328.68V193.83H318.01zM184.71 193.83H190.04V199.15H184.71zM334.01 193.83H344.68V199.15H334.01zM190.04 199.15H195.38V204.48H190.04zM350.01 199.15H360.67V204.48H350.01zM190.04 204.48H195.38V209.8H190.04zM366 204.48H371.34V209.8H366zM382 209.8H392.66V215.13H382zM408.66 209.8H419.33V215.13H408.66zM424.66 215.13H429.99V220.45H424.66zM429.99 220.45H435.32V225.78H429.99zM435.32 225.78H440.65V231.11H435.32zM440.65 231.11H445.99V236.43H440.65zM440.65 236.43H445.99V241.76H440.65zM488.64 236.43H493.98V241.76H488.64zM445.99 247.08H451.32V252.41H445.99zM445.99 252.41H451.32V257.74H445.99zM557.96 252.41H589.95V257.74H557.96zM445.99 257.74H451.32V263.06H445.99zM552.63 257.74H568.62V263.06H552.63zM589.95 257.74H600.62V263.06H589.95zM605.95 263.06H616.61V268.39H605.95zM451.32 268.39H456.65V273.71H451.32z"/><path fill="#5c5cff" d="M302.02 60.68H307.35V66.01H302.02zM344.68 60.68H350.01V66.01H344.68zM371.34 66.01H376.67V71.33H371.34zM264.69 76.66H270.02V81.98H264.69zM254.03 81.98H259.36V87.31H254.03zM408.66 81.98H413.99V87.31H408.66zM424.66 87.31H429.99V92.64H424.66zM440.65 92.64H445.99V97.96H440.65zM456.65 97.96H461.98V103.29H456.65zM152.72 103.29H158.05V108.61H152.72zM190.04 103.29H195.38V108.61H190.04zM477.98 103.29H483.31V108.61H477.98zM776.58 108.61H781.91V113.94H776.58zM557.96 140.57H563.29V145.89H557.96zM691.26 140.57H696.6V145.89H691.26zM579.29 145.89H589.95V151.22H579.29zM621.95 145.89H632.61V151.22H621.95zM184.71 151.22H190.04V156.55H184.71zM216.7 151.22H227.37V156.55H216.7zM179.38 156.55H184.71V161.87H179.38zM227.37 156.55H243.36V161.87H227.37zM243.36 161.87H264.69V167.2H243.36zM174.05 167.2H179.38V172.52H174.05zM270.02 167.2H280.69V172.52H270.02zM174.05 172.52H179.38V177.85H174.05zM280.69 172.52H286.02V177.85H280.69zM291.35 177.85H296.69V183.17H291.35zM179.38 183.17H184.71V188.5H179.38zM302.02 183.17H307.35V188.5H302.02zM184.71 188.5H190.04V193.83H184.71zM312.68 188.5H318.01V193.83H312.68zM190.04 193.83H195.38V199.15H190.04zM328.68 193.83H334.01V199.15H328.68zM344.68 199.15H350.01V204.48H344.68zM195.38 204.48H200.71V209.8H195.38zM355.34 204.48H366V209.8H355.34zM195.38 209.8H200.71V215.13H195.38zM371.34 209.8H382V215.13H371.34zM392.66 209.8H408.66V215.13H392.66zM419.33 215.13H424.66V220.45H419.33zM424.66 220.45H429.99V225.78H424.66zM429.99 225.78H435.32V231.11H429.99zM435.32 231.11H440.65V236.43H435.32zM440.65 241.76H445.99V247.08H440.65zM440.65 247.08H445.99V252.41H440.65zM568.62 257.74H589.95V263.06H568.62zM445.99 263.06H451.32V268.39H445.99zM589.95 263.06H605.95V268.39H589.95zM445.99 268.39H451.32V273.71H445.99zM605.95 268.39H621.95V273.71H605.95z"/><path fill="#6161ff" d="M296.69 60.68H302.02V66.01H296.69zM350.01 60.68H360.67V66.01H350.01zM280.69 66.01H286.02V71.33H280.69zM387.33 71.33H392.66V76.66H387.33zM398 76.66H403.33V81.98H398zM243.36 87.31H248.7V92.64H243.36zM797.91 87.31H803.24V92.64H797.91zM232.7 92.64H238.03V97.96H232.7zM216.7 97.96H222.04V103.29H216.7zM461.98 97.96H467.31V103.29H461.98zM158.05 103.29H168.71V108.61H158.05zM179.38 103.29H190.04V108.61H179.38zM493.98 108.61H499.31V113.94H493.98zM504.64 113.94H509.97V119.26H504.64zM515.3 119.26H520.64V124.59H515.3zM717.92 129.92H723.26V135.24H717.92zM547.3 135.24H552.63V140.57H547.3zM707.26 135.24H712.59V140.57H707.26zM589.95 145.89H621.95V151.22H589.95zM190.04 151.22H216.7V156.55H190.04zM222.04 156.55H227.37V161.87H222.04zM179.38 161.87H184.71V167.2H179.38zM232.7 161.87H243.36V167.2H232.7zM248.7 167.2H270.02V172.52H248.7zM275.36 172.52H280.69V177.85H275.36zM179.38 177.85H184.71V183.17H179.38zM286.02 177.85H291.35V183.17H286.02zM184.71 183.17H190.04V188.5H184.71zM291.35 183.17H302.02V188.5H291.35zM190.04 188.5H195.38V193.83H190.04zM302.02 188.5H312.68V193.83H302.02zM318.01 193.83H328.68V199.15H318.01zM195.38 199.15H200.71V204.48H195.38zM334.01 199.15H344.68V204.48H334.01zM200.71 204.48H206.04V209.8H200.71zM350.01 204.48H355.34V209.8H350.01zM200.71 209.8H206.04V215.13H200.71zM360.67 209.8H371.34V215.13H360.67zM206.04 215.13H211.37V220.45H206.04zM376.67 215.13H392.66V220.45H376.67zM403.33 215.13H419.33V220.45H403.33zM211.37 220.45H216.7V225.78H211.37zM419.33 220.45H424.66V225.78H419.33zM424.66 225.78H429.99V231.11H424.66zM429.99 231.11H435.32V236.43H429.99zM435.32 236.43H440.65V241.76H435.32zM435.32 241.76H440.65V247.08H435.32zM440.65 252.41H445.99V257.74H440.65zM440.65 257.74H445.99V263.06H440.65zM440.65 263.06H445.99V268.39H440.65zM573.96 263.06H589.95V268.39H573.96zM557.96 268.39H605.95V273.71H557.96zM611.28 273.71H627.28V279.04H611.28z"/><path fill="#6666ff" d="M291.35 60.68H296.69V66.01H291.35zM376.67 66.01H382V71.33H376.67zM270.02 71.33H275.36V76.66H270.02zM259.36 76.66H264.69V81.98H259.36zM413.99 81.98H419.33V87.31H413.99zM803.24 81.98H808.57V87.31H803.24zM429.99 87.31H435.32V92.64H429.99zM445.99 92.64H451.32V97.96H445.99zM787.24 92.64H792.58V97.96H787.24zM142.05 97.96H147.39V103.29H142.05zM211.37 97.96H216.7V103.29H211.37zM467.31 97.96H472.65V103.29H467.31zM781.91 97.96H787.24V103.29H781.91zM168.71 103.29H179.38V108.61H168.71zM483.31 103.29H488.64V108.61H483.31zM776.58 103.29H781.91V108.61H776.58zM771.25 108.61H776.58V113.94H771.25zM525.97 124.59H531.3V129.92H525.97zM536.63 129.92H541.96V135.24H536.63zM563.29 140.57H568.62V145.89H563.29zM685.93 140.57H691.26V145.89H685.93zM184.71 156.55H195.38V161.87H184.71zM206.04 156.55H222.04V161.87H206.04zM222.04 161.87H232.7V167.2H222.04zM179.38 167.2H184.71V172.52H179.38zM232.7 167.2H248.7V172.52H232.7zM179.38 172.52H184.71V177.85H179.38zM259.36 172.52H275.36V177.85H259.36zM275.36 177.85H286.02V183.17H275.36zM286.02 183.17H291.35V188.5H286.02zM296.69 188.5H302.02V193.83H296.69zM195.38 193.83H200.71V199.15H195.38zM312.68 193.83H318.01V199.15H312.68zM200.71 199.15H206.04V204.48H200.71zM328.68 199.15H334.01V204.48H328.68zM339.34 204.48H350.01V209.8H339.34zM206.04 209.8H216.7V215.13H206.04zM355.34 209.8H360.67V215.13H355.34zM211.37 215.13H216.7V220.45H211.37zM366 215.13H376.67V220.45H366zM392.66 215.13H403.33V220.45H392.66zM413.99 220.45H419.33V225.78H413.99zM216.7 225.78H222.04V231.11H216.7zM419.33 225.78H424.66V231.11H419.33zM216.7 231.11H222.04V236.43H216.7zM424.66 231.11H429.99V236.43H424.66zM429.99 236.43H435.32V241.76H429.99zM435.32 247.08H440.65V252.41H435.32zM435.32 252.41H440.65V257.74H435.32zM440.65 268.39H445.99V273.71H440.65zM440.65 273.71H445.99V279.04H440.65zM557.96 273.71H611.28V279.04H557.96zM637.94 284.36H653.94V289.69H637.94z"/><path fill="#6b6bff" d="M318.01 55.35H334.01V60.68H318.01zM360.67 60.68H366V66.01H360.67zM392.66 71.33H398V76.66H392.66zM403.33 76.66H408.66V81.98H403.33zM248.7 81.98H254.03V87.31H248.7zM419.33 81.98H424.66V87.31H419.33zM238.03 87.31H243.36V92.64H238.03zM227.37 92.64H232.7V97.96H227.37zM451.32 92.64H456.65V97.96H451.32zM147.39 97.96H152.72V103.29H147.39zM200.71 97.96H211.37V103.29H200.71zM499.31 108.61H504.64V113.94H499.31zM509.97 113.94H515.3V119.26H509.97zM552.63 135.24H557.96V140.57H552.63zM568.62 140.57H573.96V145.89H568.62zM680.6 140.57H685.93V145.89H680.6zM195.38 156.55H206.04V161.87H195.38zM184.71 161.87H190.04V167.2H184.71zM211.37 161.87H222.04V167.2H211.37zM222.04 167.2H232.7V172.52H222.04zM232.7 172.52H259.36V177.85H232.7zM184.71 177.85H190.04V183.17H184.71zM264.69 177.85H275.36V183.17H264.69zM190.04 183.17H195.38V188.5H190.04zM280.69 183.17H286.02V188.5H280.69zM195.38 188.5H200.71V193.83H195.38zM291.35 188.5H296.69V193.83H291.35zM200.71 193.83H206.04V199.15H200.71zM302.02 193.83H312.68V199.15H302.02zM318.01 199.15H328.68V204.48H318.01zM206.04 204.48H211.37V209.8H206.04zM334.01 204.48H339.34V209.8H334.01zM216.7 209.8H222.04V215.13H216.7zM344.68 209.8H355.34V215.13H344.68zM216.7 215.13H222.04V220.45H216.7zM360.67 215.13H366V220.45H360.67zM216.7 220.45H222.04V225.78H216.7zM382 220.45H413.99V225.78H382zM413.99 225.78H419.33V231.11H413.99zM424.66 236.43H429.99V241.76H424.66zM222.04 241.76H227.37V247.08H222.04zM429.99 241.76H435.32V247.08H429.99zM429.99 247.08H435.32V252.41H429.99zM435.32 257.74H440.65V263.06H435.32zM435.32 263.06H440.65V268.39H435.32zM435.32 268.39H440.65V273.71H435.32zM563.29 279.04H616.61V284.36H563.29zM643.27 289.69H659.27V295.02H643.27z"/><path fill="#7070ff" d="M307.35 55.35H318.01V60.68H307.35zM334.01 55.35H344.68V60.68H334.01zM286.02 60.68H291.35V66.01H286.02zM366 60.68H371.34V66.01H366zM275.36 66.01H280.69V71.33H275.36zM382 66.01H387.33V71.33H382zM264.69 71.33H270.02V76.66H264.69zM435.32 87.31H440.65V92.64H435.32zM222.04 92.64H227.37V97.96H222.04zM195.38 97.96H200.71V103.29H195.38zM472.65 97.96H477.98V103.29H472.65zM488.64 103.29H493.98V108.61H488.64zM765.91 108.61H771.25V113.94H765.91zM520.64 119.26H525.97V124.59H520.64zM531.3 124.59H536.63V129.92H531.3zM541.96 129.92H547.3V135.24H541.96zM701.93 135.24H707.26V140.57H701.93zM675.27 140.57H680.6V145.89H675.27zM190.04 161.87H211.37V167.2H190.04zM184.71 167.2H190.04V172.52H184.71zM211.37 167.2H222.04V172.52H211.37zM184.71 172.52H190.04V177.85H184.71zM222.04 172.52H232.7V177.85H222.04zM190.04 177.85H195.38V183.17H190.04zM232.7 177.85H264.69V183.17H232.7zM195.38 183.17H200.71V188.5H195.38zM270.02 183.17H280.69V188.5H270.02zM200.71 188.5H206.04V193.83H200.71zM280.69 188.5H291.35V193.83H280.69zM291.35 193.83H302.02V199.15H291.35zM206.04 199.15H211.37V204.48H206.04zM307.35 199.15H318.01V204.48H307.35zM211.37 204.48H216.7V209.8H211.37zM323.35 204.48H334.01V209.8H323.35zM339.34 209.8H344.68V215.13H339.34zM222.04 215.13H227.37V220.45H222.04zM355.34 215.13H360.67V220.45H355.34zM222.04 220.45H227.37V225.78H222.04zM366 220.45H382V225.78H366zM222.04 225.78H227.37V231.11H222.04zM408.66 225.78H413.99V231.11H408.66zM222.04 231.11H227.37V236.43H222.04zM419.33 231.11H424.66V236.43H419.33zM222.04 236.43H227.37V241.76H222.04zM424.66 241.76H429.99V247.08H424.66zM227.37 247.08H232.7V252.41H227.37zM227.37 252.41H232.7V257.74H227.37zM429.99 252.41H435.32V257.74H429.99zM429.99 257.74H435.32V263.06H429.99zM435.32 273.71H440.65V279.04H435.32zM563.29 284.36H621.95V289.69H563.29zM627.28 289.69H643.27V295.02H627.28zM648.61 295.02H664.6V300.34H648.61z"/><path fill="#7575ff" d="M302.02 55.35H307.35V60.68H302.02zM344.68 55.35H355.34V60.68H344.68zM371.34 60.68H376.67V66.01H371.34zM398 71.33H403.33V76.66H398zM254.03 76.66H259.36V81.98H254.03zM408.66 76.66H413.99V81.98H408.66zM243.36 81.98H248.7V87.31H243.36zM424.66 81.98H429.99V87.31H424.66zM232.7 87.31H238.03V92.64H232.7zM440.65 87.31H445.99V92.64H440.65zM792.58 87.31H797.91V92.64H792.58zM216.7 92.64H222.04V97.96H216.7zM456.65 92.64H461.98V97.96H456.65zM781.91 92.64H787.24V97.96H781.91zM152.72 97.96H158.05V103.29H152.72zM190.04 97.96H195.38V103.29H190.04zM477.98 97.96H483.31V103.29H477.98zM776.58 97.96H781.91V103.29H776.58zM771.25 103.29H776.58V108.61H771.25zM760.58 108.61H765.91V113.94H760.58zM712.59 129.92H717.92V135.24H712.59zM573.96 140.57H579.29V145.89H573.96zM669.94 140.57H675.27V145.89H669.94zM190.04 167.2H211.37V172.52H190.04zM190.04 172.52H195.38V177.85H190.04zM206.04 172.52H222.04V177.85H206.04zM195.38 177.85H206.04V183.17H195.38zM216.7 177.85H232.7V183.17H216.7zM200.71 183.17H211.37V188.5H200.71zM238.03 183.17H270.02V188.5H238.03zM206.04 188.5H211.37V193.83H206.04zM270.02 188.5H280.69V193.83H270.02zM206.04 193.83H211.37V199.15H206.04zM280.69 193.83H291.35V199.15H280.69zM211.37 199.15H216.7V204.48H211.37zM296.69 199.15H307.35V204.48H296.69zM216.7 204.48H222.04V209.8H216.7zM312.68 204.48H323.35V209.8H312.68zM222.04 209.8H227.37V215.13H222.04zM328.68 209.8H339.34V215.13H328.68zM344.68 215.13H355.34V220.45H344.68zM360.67 220.45H366V225.78H360.67zM382 225.78H408.66V231.11H382zM413.99 231.11H419.33V236.43H413.99zM227.37 236.43H232.7V241.76H227.37zM419.33 236.43H424.66V241.76H419.33zM227.37 241.76H232.7V247.08H227.37zM424.66 247.08H429.99V252.41H424.66zM424.66 252.41H429.99V257.74H424.66zM429.99 263.06H435.32V268.39H429.99zM429.99 268.39H435.32V273.71H429.99zM605.95 289.69H627.28V295.02H605.95zM632.61 295.02H648.61V300.34H632.61z"/><path fill="#7a7aff" d="M296.69 55.35H302.02V60.68H296.69zM355.34 55.35H360.67V60.68H355.34zM280.69 60.68H286.02V66.01H280.69zM270.02 66.01H275.36V71.33H270.02zM387.33 66.01H392.66V71.33H387.33zM259.36 71.33H264.69V76.66H259.36zM461.98 92.64H467.31V97.96H461.98zM158.05 97.96H163.38V103.29H158.05zM184.71 97.96H190.04V103.29H184.71zM493.98 103.29H499.31V108.61H493.98zM504.64 108.61H509.97V113.94H504.64zM515.3 113.94H520.64V119.26H515.3zM557.96 135.24H563.29V140.57H557.96zM696.6 135.24H701.93V140.57H696.6zM579.29 140.57H584.62V145.89H579.29zM648.61 140.57H669.94V145.89H648.61zM195.38 172.52H206.04V177.85H195.38zM206.04 177.85H216.7V183.17H206.04zM211.37 183.17H238.03V188.5H211.37zM211.37 188.5H216.7V193.83H211.37zM243.36 188.5H270.02V193.83H243.36zM211.37 193.83H216.7V199.15H211.37zM270.02 193.83H280.69V199.15H270.02zM286.02 199.15H296.69V204.48H286.02zM222.04 204.48H227.37V209.8H222.04zM302.02 204.48H312.68V209.8H302.02zM227.37 209.8H232.7V215.13H227.37zM318.01 209.8H328.68V215.13H318.01zM227.37 215.13H232.7V220.45H227.37zM339.34 215.13H344.68V220.45H339.34zM227.37 220.45H232.7V225.78H227.37zM350.01 220.45H360.67V225.78H350.01zM227.37 225.78H232.7V231.11H227.37zM366 225.78H382V231.11H366zM227.37 231.11H232.7V236.43H227.37zM403.33 231.11H413.99V236.43H403.33zM413.99 236.43H419.33V241.76H413.99zM419.33 241.76H424.66V247.08H419.33zM232.7 247.08H238.03V252.41H232.7zM419.33 247.08H424.66V252.41H419.33zM232.7 252.41H238.03V257.74H232.7zM232.7 257.74H238.03V263.06H232.7zM424.66 257.74H429.99V263.06H424.66zM424.66 263.06H429.99V268.39H424.66zM429.99 273.71H435.32V279.04H429.99zM429.99 279.04H435.32V284.36H429.99zM589.95 289.69H605.95V295.02H589.95zM616.61 295.02H632.61V300.34H616.61zM637.94 300.34H648.61V305.67H637.94z"/><path fill="#8080ff" d="M291.35 55.35H296.69V60.68H291.35zM360.67 55.35H366V60.68H360.67zM376.67 60.68H382V66.01H376.67zM813.9 71.33H824.57V76.66H813.9zM248.7 76.66H254.03V81.98H248.7zM413.99 76.66H419.33V81.98H413.99zM429.99 81.98H435.32V87.31H429.99zM797.91 81.98H803.24V87.31H797.91zM227.37 87.31H232.7V92.64H227.37zM445.99 87.31H451.32V92.64H445.99zM787.24 87.31H792.58V92.64H787.24zM142.05 92.64H147.39V97.96H142.05zM211.37 92.64H216.7V97.96H211.37zM163.38 97.96H184.71V103.29H163.38zM483.31 97.96H488.64V103.29H483.31zM771.25 97.96H776.58V103.29H771.25zM749.92 103.29H771.25V108.61H749.92zM525.97 119.26H531.3V124.59H525.97zM536.63 124.59H541.96V129.92H536.63zM547.3 129.92H552.63V135.24H547.3zM584.62 140.57H589.95V145.89H584.62zM632.61 140.57H648.61V145.89H632.61zM216.7 188.5H243.36V193.83H216.7zM216.7 193.83H270.02V199.15H216.7zM216.7 199.15H227.37V204.48H216.7zM270.02 199.15H286.02V204.48H270.02zM227.37 204.48H232.7V209.8H227.37zM286.02 204.48H302.02V209.8H286.02zM307.35 209.8H318.01V215.13H307.35zM328.68 215.13H339.34V220.45H328.68zM344.68 220.45H350.01V225.78H344.68zM355.34 225.78H366V231.11H355.34zM382 231.11H403.33V236.43H382zM232.7 236.43H238.03V241.76H232.7zM403.33 236.43H413.99V241.76H403.33zM232.7 241.76H238.03V247.08H232.7zM413.99 241.76H419.33V247.08H413.99zM238.03 247.08H243.36V252.41H238.03zM238.03 252.41H243.36V257.74H238.03zM419.33 252.41H424.66V257.74H419.33zM238.03 257.74H243.36V263.06H238.03zM238.03 263.06H243.36V268.39H238.03zM424.66 268.39H429.99V273.71H424.66zM424.66 273.71H429.99V279.04H424.66zM238.03 279.04H243.36V284.36H238.03zM429.99 284.36H435.32V289.69H429.99zM584.62 295.02H616.61V300.34H584.62zM637.94 305.67H648.61V310.99H637.94z"/><path fill="#8585ff" d="M318.01 50.03H334.01V55.35H318.01zM286.02 55.35H291.35V60.68H286.02zM275.36 60.68H280.69V66.01H275.36zM264.69 66.01H270.02V71.33H264.69zM392.66 66.01H398V71.33H392.66zM403.33 71.33H408.66V76.66H403.33zM419.33 76.66H424.66V81.98H419.33zM238.03 81.98H243.36V87.31H238.03zM206.04 92.64H211.37V97.96H206.04zM467.31 92.64H472.65V97.96H467.31zM776.58 92.64H781.91V97.96H776.58zM499.31 103.29H504.64V108.61H499.31zM717.92 124.59H723.26V129.92H717.92zM563.29 135.24H568.62V140.57H563.29zM691.26 135.24H696.6V140.57H691.26zM589.95 140.57H632.61V145.89H589.95zM227.37 199.15H270.02V204.48H227.37zM232.7 204.48H238.03V209.8H232.7zM270.02 204.48H286.02V209.8H270.02zM232.7 209.8H238.03V215.13H232.7zM286.02 209.8H307.35V215.13H286.02zM232.7 215.13H238.03V220.45H232.7zM312.68 215.13H328.68V220.45H312.68zM232.7 220.45H238.03V225.78H232.7zM334.01 220.45H344.68V225.78H334.01zM232.7 225.78H238.03V231.11H232.7zM350.01 225.78H355.34V231.11H350.01zM232.7 231.11H238.03V236.43H232.7zM366 231.11H382V236.43H366zM392.66 236.43H403.33V241.76H392.66zM238.03 241.76H243.36V247.08H238.03zM408.66 241.76H413.99V247.08H408.66zM413.99 247.08H419.33V252.41H413.99zM243.36 252.41H248.7V257.74H243.36zM243.36 257.74H248.7V263.06H243.36zM419.33 257.74H424.66V263.06H419.33zM243.36 263.06H248.7V268.39H243.36zM419.33 263.06H424.66V268.39H419.33zM243.36 268.39H254.03V273.71H243.36zM243.36 273.71H254.03V279.04H243.36zM243.36 279.04H254.03V284.36H243.36zM424.66 279.04H429.99V284.36H424.66zM243.36 284.36H254.03V289.69H243.36zM429.99 289.69H435.32V295.02H429.99zM584.62 300.34H621.95V305.67H584.62zM621.95 305.67H637.94V310.99H621.95zM637.94 310.99H648.61V316.32H637.94z"/><path fill="#8a8aff" d="M307.35 50.03H318.01V55.35H307.35zM334.01 50.03H344.68V55.35H334.01zM366 55.35H371.34V60.68H366zM382 60.68H387.33V66.01H382zM254.03 71.33H259.36V76.66H254.03zM435.32 81.98H440.65V87.31H435.32zM222.04 87.31H227.37V92.64H222.04zM451.32 87.31H456.65V92.64H451.32zM147.39 92.64H152.72V97.96H147.39zM200.71 92.64H206.04V97.96H200.71zM472.65 92.64H477.98V97.96H472.65zM488.64 97.96H493.98V103.29H488.64zM765.91 97.96H771.25V103.29H765.91zM509.97 108.61H515.3V113.94H509.97zM520.64 113.94H525.97V119.26H520.64zM552.63 129.92H557.96V135.24H552.63zM707.26 129.92H712.59V135.24H707.26zM238.03 204.48H270.02V209.8H238.03zM238.03 209.8H248.7V215.13H238.03zM264.69 209.8H286.02V215.13H264.69zM238.03 215.13H243.36V220.45H238.03zM291.35 215.13H312.68V220.45H291.35zM238.03 220.45H243.36V225.78H238.03zM323.35 220.45H334.01V225.78H323.35zM238.03 225.78H243.36V231.11H238.03zM339.34 225.78H350.01V231.11H339.34zM238.03 231.11H243.36V236.43H238.03zM355.34 231.11H366V236.43H355.34zM238.03 236.43H243.36V241.76H238.03zM371.34 236.43H392.66V241.76H371.34zM243.36 241.76H248.7V247.08H243.36zM398 241.76H408.66V247.08H398zM243.36 247.08H248.7V252.41H243.36zM408.66 247.08H413.99V252.41H408.66zM248.7 252.41H254.03V257.74H248.7zM413.99 252.41H419.33V257.74H413.99zM248.7 257.74H254.03V263.06H248.7zM413.99 257.74H419.33V263.06H413.99zM248.7 263.06H254.03V268.39H248.7zM254.03 268.39H259.36V273.71H254.03zM419.33 268.39H424.66V273.71H419.33zM254.03 273.71H259.36V279.04H254.03zM419.33 273.71H424.66V279.04H419.33zM254.03 279.04H259.36V284.36H254.03zM254.03 284.36H259.36V289.69H254.03zM424.66 284.36H429.99V289.69H424.66zM248.7 289.69H259.36V295.02H248.7zM584.62 305.67H621.95V310.99H584.62zM621.95 310.99H637.94V316.32H621.95zM632.61 316.32H648.61V321.65H632.61zM643.27 321.65H664.6V326.97H643.27z"/><path fill="#8f8fff" d="M302.02 50.03H307.35V55.35H302.02zM344.68 50.03H350.01V55.35H344.68zM280.69 55.35H286.02V60.68H280.69zM371.34 55.35H376.67V60.68H371.34zM270.02 60.68H275.36V66.01H270.02zM398 66.01H403.33V71.33H398zM408.66 71.33H413.99V76.66H408.66zM243.36 76.66H248.7V81.98H243.36zM424.66 76.66H429.99V81.98H424.66zM232.7 81.98H238.03V87.31H232.7zM792.58 81.98H797.91V87.31H792.58zM456.65 87.31H461.98V92.64H456.65zM781.91 87.31H787.24V92.64H781.91zM152.72 92.64H158.05V97.96H152.72zM195.38 92.64H200.71V97.96H195.38zM771.25 92.64H776.58V97.96H771.25zM531.3 119.26H536.63V124.59H531.3zM541.96 124.59H547.3V129.92H541.96zM568.62 135.24H573.96V140.57H568.62zM685.93 135.24H691.26V140.57H685.93zM248.7 209.8H264.69V215.13H248.7zM243.36 215.13H291.35V220.45H243.36zM243.36 220.45H248.7V225.78H243.36zM296.69 220.45H323.35V225.78H296.69zM243.36 225.78H248.7V231.11H243.36zM334.01 225.78H339.34V231.11H334.01zM243.36 231.11H248.7V236.43H243.36zM344.68 231.11H355.34V236.43H344.68zM243.36 236.43H248.7V241.76H243.36zM360.67 236.43H371.34V241.76H360.67zM382 241.76H398V247.08H382zM403.33 247.08H408.66V252.41H403.33zM408.66 252.41H413.99V257.74H408.66zM254.03 257.74H259.36V263.06H254.03zM254.03 263.06H264.69V268.39H254.03zM413.99 263.06H419.33V268.39H413.99zM259.36 268.39H264.69V273.71H259.36zM259.36 273.71H264.69V279.04H259.36zM259.36 279.04H264.69V284.36H259.36zM419.33 279.04H424.66V284.36H419.33zM259.36 284.36H270.02V289.69H259.36zM259.36 289.69H270.02V295.02H259.36zM424.66 289.69H429.99V295.02H424.66zM259.36 295.02H270.02V300.34H259.36zM429.99 295.02H435.32V300.34H429.99zM627.28 321.65H643.27V326.97H627.28z"/><path fill="#9494ff" d="M296.69 50.03H302.02V55.35H296.69zM350.01 50.03H360.67V55.35H350.01zM387.33 60.68H392.66V66.01H387.33zM259.36 66.01H264.69V71.33H259.36zM440.65 81.98H445.99V87.31H440.65zM216.7 87.31H222.04V92.64H216.7zM184.71 92.64H195.38V97.96H184.71zM477.98 92.64H483.31V97.96H477.98zM493.98 97.96H499.31V103.29H493.98zM755.25 97.96H760.58V103.29H755.25zM504.64 103.29H509.97V108.61H504.64zM573.96 135.24H579.29V140.57H573.96zM248.7 220.45H296.69V225.78H248.7zM248.7 225.78H270.02V231.11H248.7zM296.69 225.78H334.01V231.11H296.69zM248.7 231.11H259.36V236.43H248.7zM334.01 231.11H344.68V236.43H334.01zM248.7 236.43H259.36V241.76H248.7zM350.01 236.43H360.67V241.76H350.01zM254.03 241.76H264.69V247.08H254.03zM366 241.76H382V247.08H366zM254.03 247.08H264.69V252.41H254.03zM387.33 247.08H403.33V252.41H387.33zM403.33 252.41H408.66V257.74H403.33zM259.36 257.74H270.02V263.06H259.36zM408.66 257.74H413.99V263.06H408.66zM264.69 268.39H270.02V273.71H264.69zM413.99 268.39H419.33V273.71H413.99zM264.69 273.71H275.36V279.04H264.69zM413.99 273.71H419.33V279.04H413.99zM264.69 279.04H275.36V284.36H264.69zM270.02 284.36H275.36V289.69H270.02zM419.33 284.36H424.66V289.69H419.33zM270.02 289.69H275.36V295.02H270.02zM270.02 295.02H280.69V300.34H270.02zM424.66 295.02H429.99V300.34H424.66zM270.02 300.34H280.69V305.67H270.02zM429.99 300.34H435.32V305.67H429.99zM270.02 305.67H280.69V310.99H270.02zM429.99 305.67H435.32V310.99H429.99zM270.02 310.99H280.69V316.32H270.02zM264.69 316.32H280.69V321.65H264.69zM584.62 326.97H605.95V332.3H584.62zM627.28 332.3H648.61V337.62H627.28zM637.94 337.62H675.27V342.95H637.94z"/><path fill="#9999ff" d="M291.35 50.03H296.69V55.35H291.35zM376.67 55.35H382V60.68H376.67zM248.7 71.33H254.03V76.66H248.7zM413.99 71.33H419.33V76.66H413.99zM429.99 76.66H435.32V81.98H429.99zM227.37 81.98H232.7V87.31H227.37zM787.24 81.98H792.58V87.31H787.24zM211.37 87.31H216.7V92.64H211.37zM461.98 87.31H467.31V92.64H461.98zM776.58 87.31H781.91V92.64H776.58zM158.05 92.64H168.71V97.96H158.05zM179.38 92.64H184.71V97.96H179.38zM765.91 92.64H771.25V97.96H765.91zM515.3 108.61H520.64V113.94H515.3zM525.97 113.94H531.3V119.26H525.97zM557.96 129.92H563.29V135.24H557.96zM701.93 129.92H707.26V135.24H701.93zM680.6 135.24H685.93V140.57H680.6zM270.02 225.78H296.69V231.11H270.02zM259.36 231.11H334.01V236.43H259.36zM259.36 236.43H275.36V241.76H259.36zM339.34 236.43H350.01V241.76H339.34zM264.69 241.76H275.36V247.08H264.69zM350.01 241.76H366V247.08H350.01zM264.69 247.08H275.36V252.41H264.69zM371.34 247.08H387.33V252.41H371.34zM264.69 252.41H275.36V257.74H264.69zM392.66 252.41H403.33V257.74H392.66zM270.02 257.74H275.36V263.06H270.02zM403.33 257.74H408.66V263.06H403.33zM270.02 263.06H280.69V268.39H270.02zM408.66 263.06H413.99V268.39H408.66zM270.02 268.39H280.69V273.71H270.02zM275.36 273.71H280.69V279.04H275.36zM275.36 279.04H286.02V284.36H275.36zM413.99 279.04H419.33V284.36H413.99zM275.36 284.36H286.02V289.69H275.36zM275.36 289.69H286.02V295.02H275.36zM419.33 289.69H424.66V295.02H419.33zM280.69 295.02H286.02V300.34H280.69zM280.69 300.34H291.35V305.67H280.69zM424.66 300.34H429.99V305.67H424.66zM280.69 305.67H291.35V310.99H280.69zM280.69 310.99H291.35V316.32H280.69zM429.99 310.99H435.32V316.32H429.99zM280.69 316.32H291.35V321.65H280.69zM280.69 321.65H296.69V326.97H280.69zM280.69 326.97H296.69V332.3H280.69zM563.29 326.97H584.62V332.3H563.29zM605.95 326.97H616.61V332.3H605.95zM275.36 332.3H296.69V337.62H275.36zM579.29 332.3H627.28V337.62H579.29zM589.95 337.62H637.94V342.95H589.95zM595.29 342.95H659.27V348.27H595.29zM637.94 348.27H829.9V353.6H637.94z"/><path fill="#9e9eff" d="M286.02 50.03H291.35V55.35H286.02zM360.67 50.03H366V55.35H360.67zM275.36 55.35H280.69V60.68H275.36zM264.69 60.68H270.02V66.01H264.69zM392.66 60.68H398V66.01H392.66zM254.03 66.01H259.36V71.33H254.03zM403.33 66.01H408.66V71.33H403.33zM238.03 76.66H243.36V81.98H238.03zM445.99 81.98H451.32V87.31H445.99zM206.04 87.31H211.37V92.64H206.04zM771.25 87.31H776.58V92.64H771.25zM168.71 92.64H179.38V97.96H168.71zM483.31 92.64H488.64V97.96H483.31zM536.63 119.26H541.96V124.59H536.63zM547.3 124.59H552.63V129.92H547.3zM712.59 124.59H717.92V129.92H712.59zM579.29 135.24H584.62V140.57H579.29zM675.27 135.24H680.6V140.57H675.27zM275.36 236.43H339.34V241.76H275.36zM275.36 241.76H296.69V247.08H275.36zM339.34 241.76H350.01V247.08H339.34zM275.36 247.08H291.35V252.41H275.36zM355.34 247.08H371.34V252.41H355.34zM275.36 252.41H286.02V257.74H275.36zM376.67 252.41H392.66V257.74H376.67zM275.36 257.74H286.02V263.06H275.36zM398 257.74H403.33V263.06H398zM280.69 263.06H291.35V268.39H280.69zM403.33 263.06H408.66V268.39H403.33zM280.69 268.39H291.35V273.71H280.69zM408.66 268.39H413.99V273.71H408.66zM280.69 273.71H291.35V279.04H280.69zM408.66 273.71H413.99V279.04H408.66zM286.02 279.04H291.35V284.36H286.02zM413.99 284.36H419.33V289.69H413.99zM286.02 289.69H296.69V295.02H286.02zM419.33 295.02H424.66V300.34H419.33zM424.66 305.67H429.99V310.99H424.66zM291.35 316.32H302.02V321.65H291.35zM296.69 321.65H307.35V326.97H296.69zM296.69 326.97H307.35V332.3H296.69zM296.69 332.3H312.68V337.62H296.69zM563.29 332.3H579.29V337.62H563.29zM573.96 337.62H589.95V342.95H573.96zM589.95 348.27H637.94V353.6H589.95z"/><path fill="#a3a3ff" d="M307.35 44.7H344.68V50.03H307.35zM366 50.03H371.34V55.35H366zM382 55.35H387.33V60.68H382zM419.33 71.33H424.66V76.66H419.33zM435.32 76.66H440.65V81.98H435.32zM792.58 76.66H797.91V81.98H792.58zM222.04 81.98H227.37V87.31H222.04zM781.91 81.98H787.24V87.31H781.91zM147.39 87.31H152.72V92.64H147.39zM200.71 87.31H206.04V92.64H200.71zM467.31 87.31H472.65V92.64H467.31zM499.31 97.96H504.64V103.29H499.31zM509.97 103.29H515.3V108.61H509.97zM739.25 103.29H744.59V108.61H739.25zM563.29 129.92H568.62V135.24H563.29zM584.62 135.24H589.95V140.57H584.62zM664.6 135.24H675.27V140.57H664.6zM296.69 241.76H339.34V247.08H296.69zM291.35 247.08H307.35V252.41H291.35zM339.34 247.08H355.34V252.41H339.34zM286.02 252.41H302.02V257.74H286.02zM355.34 252.41H376.67V257.74H355.34zM286.02 257.74H302.02V263.06H286.02zM376.67 257.74H398V263.06H376.67zM291.35 263.06H302.02V268.39H291.35zM398 263.06H403.33V268.39H398zM291.35 268.39H302.02V273.71H291.35zM403.33 268.39H408.66V273.71H403.33zM291.35 273.71H302.02V279.04H291.35zM291.35 279.04H302.02V284.36H291.35zM408.66 279.04H413.99V284.36H408.66zM291.35 284.36H302.02V289.69H291.35zM296.69 289.69H302.02V295.02H296.69zM413.99 289.69H419.33V295.02H413.99zM296.69 300.34H307.35V305.67H296.69zM419.33 300.34H424.66V305.67H419.33zM302.02 305.67H307.35V310.99H302.02zM424.66 310.99H429.99V316.32H424.66zM563.29 337.62H573.96V342.95H563.29z"/><path fill="#a8a8ff" d="M302.02 44.7H307.35V50.03H302.02zM344.68 44.7H350.01V50.03H344.68zM280.69 50.03H286.02V55.35H280.69zM371.34 50.03H376.67V55.35H371.34zM270.02 55.35H275.36V60.68H270.02zM259.36 60.68H264.69V66.01H259.36zM398 60.68H403.33V66.01H398zM408.66 66.01H413.99V71.33H408.66zM243.36 71.33H248.7V76.66H243.36zM232.7 76.66H238.03V81.98H232.7zM451.32 81.98H456.65V87.31H451.32zM776.58 81.98H781.91V87.31H776.58zM195.38 87.31H200.71V92.64H195.38zM472.65 87.31H477.98V92.64H472.65zM488.64 92.64H493.98V97.96H488.64zM760.58 92.64H765.91V97.96H760.58zM749.92 97.96H755.25V103.29H749.92zM520.64 108.61H525.97V113.94H520.64zM531.3 113.94H536.63V119.26H531.3zM552.63 124.59H557.96V129.92H552.63zM696.6 129.92H701.93V135.24H696.6zM589.95 135.24H595.29V140.57H589.95zM637.94 135.24H664.6V140.57H637.94zM307.35 247.08H339.34V252.41H307.35zM302.02 252.41H323.35V257.74H302.02zM334.01 252.41H355.34V257.74H334.01zM302.02 257.74H312.68V263.06H302.02zM355.34 257.74H376.67V263.06H355.34zM302.02 263.06H307.35V268.39H302.02zM382 263.06H398V268.39H382zM302.02 268.39H307.35V273.71H302.02zM398 268.39H403.33V273.71H398zM302.02 273.71H307.35V279.04H302.02zM403.33 273.71H408.66V279.04H403.33zM302.02 279.04H307.35V284.36H302.02zM302.02 284.36H312.68V289.69H302.02zM408.66 284.36H413.99V289.69H408.66zM302.02 289.69H312.68V295.02H302.02zM302.02 295.02H312.68V300.34H302.02zM413.99 295.02H419.33V300.34H413.99zM307.35 300.34H318.01V305.67H307.35zM307.35 305.67H318.01V310.99H307.35zM419.33 305.67H424.66V310.99H419.33zM312.68 310.99H323.35V316.32H312.68zM312.68 316.32H328.68V321.65H312.68zM424.66 316.32H429.99V321.65H424.66zM318.01 321.65H334.01V326.97H318.01zM424.66 321.65H429.99V326.97H424.66zM323.35 326.97H334.01V332.3H323.35zM323.35 332.3H339.34V337.62H323.35zM547.3 337.62H563.29V342.95H547.3zM563.29 342.95H573.96V348.27H563.29z"/><path fill="#adadff" d="M296.69 44.7H302.02V50.03H296.69zM350.01 44.7H355.34V50.03H350.01zM387.33 55.35H392.66V60.68H387.33zM248.7 66.01H254.03V71.33H248.7zM424.66 71.33H429.99V76.66H424.66zM787.24 76.66H792.58V81.98H787.24zM216.7 81.98H222.04V87.31H216.7zM456.65 81.98H461.98V87.31H456.65zM771.25 81.98H776.58V87.31H771.25zM152.72 87.31H158.05V92.64H152.72zM190.04 87.31H195.38V92.64H190.04zM765.91 87.31H771.25V92.64H765.91zM541.96 119.26H547.3V124.59H541.96zM595.29 135.24H637.94V140.57H595.29zM323.35 252.41H334.01V257.74H323.35zM312.68 257.74H355.34V263.06H312.68zM307.35 263.06H318.01V268.39H307.35zM355.34 263.06H382V268.39H355.34zM307.35 268.39H318.01V273.71H307.35zM387.33 268.39H398V273.71H387.33zM307.35 273.71H318.01V279.04H307.35zM398 273.71H403.33V279.04H398zM307.35 279.04H318.01V284.36H307.35zM403.33 279.04H408.66V284.36H403.33zM312.68 284.36H318.01V289.69H312.68zM312.68 289.69H323.35V295.02H312.68zM408.66 289.69H413.99V295.02H408.66zM312.68 295.02H328.68V300.34H312.68zM318.01 300.34H328.68V305.67H318.01zM413.99 300.34H419.33V305.67H413.99zM318.01 305.67H334.01V310.99H318.01zM323.35 310.99H334.01V316.32H323.35zM419.33 310.99H424.66V316.32H419.33zM328.68 316.32H339.34V321.65H328.68zM419.33 316.32H424.66V321.65H419.33zM334.01 321.65H339.34V326.97H334.01zM334.01 326.97H344.68V332.3H334.01zM424.66 326.97H429.99V332.3H424.66zM339.34 332.3H344.68V337.62H339.34zM334.01 337.62H344.68V342.95H334.01zM552.63 342.95H563.29V348.27H552.63z"/><path fill="#b2b2ff" d="M291.35 44.7H296.69V50.03H291.35zM355.34 44.7H360.67V50.03H355.34zM275.36 50.03H280.69V55.35H275.36zM376.67 50.03H382V55.35H376.67zM413.99 66.01H419.33V71.33H413.99zM238.03 71.33H243.36V76.66H238.03zM440.65 76.66H445.99V81.98H440.65zM781.91 76.66H787.24V81.98H781.91zM211.37 81.98H216.7V87.31H211.37zM158.05 87.31H163.38V92.64H158.05zM184.71 87.31H190.04V92.64H184.71zM477.98 87.31H483.31V92.64H477.98zM493.98 92.64H499.31V97.96H493.98zM504.64 97.96H509.97V103.29H504.64zM515.3 103.29H520.64V108.61H515.3zM728.59 108.61H733.92V113.94H728.59zM707.26 124.59H712.59V129.92H707.26zM568.62 129.92H573.96V135.24H568.62zM691.26 129.92H696.6V135.24H691.26zM318.01 263.06H355.34V268.39H318.01zM318.01 268.39H387.33V273.71H318.01zM318.01 273.71H328.68V279.04H318.01zM387.33 273.71H398V279.04H387.33zM318.01 279.04H334.01V284.36H318.01zM398 279.04H403.33V284.36H398zM318.01 284.36H334.01V289.69H318.01zM403.33 284.36H408.66V289.69H403.33zM323.35 289.69H339.34V295.02H323.35zM328.68 295.02H339.34V300.34H328.68zM408.66 295.02H413.99V300.34H408.66zM328.68 300.34H339.34V305.67H328.68zM334.01 305.67H344.68V310.99H334.01zM413.99 305.67H419.33V310.99H413.99zM334.01 310.99H344.68V316.32H334.01zM339.34 316.32H344.68V321.65H339.34zM339.34 321.65H350.01V326.97H339.34zM419.33 321.65H424.66V326.97H419.33zM344.68 326.97H350.01V332.3H344.68zM344.68 332.3H350.01V337.62H344.68zM424.66 332.3H429.99V337.62H424.66zM344.68 337.62H350.01V342.95H344.68zM339.34 342.95H344.68V348.27H339.34zM536.63 342.95H552.63V348.27H536.63z"/><path fill="#b8b8ff" d="M286.02 44.7H291.35V50.03H286.02zM360.67 44.7H366V50.03H360.67zM264.69 55.35H270.02V60.68H264.69zM392.66 55.35H398V60.68H392.66zM254.03 60.68H259.36V66.01H254.03zM403.33 60.68H408.66V66.01H403.33zM429.99 71.33H435.32V76.66H429.99zM227.37 76.66H232.7V81.98H227.37zM461.98 81.98H467.31V87.31H461.98zM163.38 87.31H184.71V92.64H163.38zM733.92 103.29H739.25V108.61H733.92zM525.97 108.61H531.3V113.94H525.97zM536.63 113.94H541.96V119.26H536.63zM557.96 124.59H563.29V129.92H557.96zM328.68 273.71H387.33V279.04H328.68zM334.01 279.04H398V284.36H334.01zM334.01 284.36H355.34V289.69H334.01zM398 284.36H403.33V289.69H398zM339.34 289.69H350.01V295.02H339.34zM403.33 289.69H408.66V295.02H403.33zM339.34 295.02H350.01V300.34H339.34zM339.34 300.34H350.01V305.67H339.34zM408.66 300.34H413.99V305.67H408.66zM344.68 305.67H350.01V310.99H344.68zM344.68 310.99H350.01V316.32H344.68zM413.99 310.99H419.33V316.32H413.99zM344.68 316.32H355.34V321.65H344.68zM413.99 316.32H419.33V321.65H413.99zM350.01 321.65H355.34V326.97H350.01zM350.01 326.97H355.34V332.3H350.01zM419.33 326.97H424.66V332.3H419.33zM350.01 332.3H355.34V337.62H350.01zM419.33 332.3H424.66V337.62H419.33zM350.01 337.62H355.34V342.95H350.01zM424.66 337.62H429.99V342.95H424.66zM344.68 342.95H350.01V348.27H344.68zM429.99 342.95H435.32V348.27H429.99zM504.64 342.95H536.63V348.27H504.64zM344.68 348.27H350.01V353.6H344.68zM541.96 348.27H552.63V353.6H541.96z"/><path fill="#bdbdff" d="M312.68 39.38H339.34V44.7H312.68zM366 44.7H371.34V50.03H366zM382 50.03H387.33V55.35H382zM243.36 66.01H248.7V71.33H243.36zM419.33 66.01H424.66V71.33H419.33zM445.99 76.66H451.32V81.98H445.99zM771.25 76.66H781.91V81.98H771.25zM206.04 81.98H211.37V87.31H206.04zM483.31 87.31H488.64V92.64H483.31zM744.59 97.96H749.92V103.29H744.59zM547.3 119.26H552.63V124.59H547.3zM573.96 129.92H579.29V135.24H573.96zM685.93 129.92H691.26V135.24H685.93zM355.34 284.36H398V289.69H355.34zM350.01 289.69H371.34V295.02H350.01zM392.66 289.69H403.33V295.02H392.66zM350.01 295.02H366V300.34H350.01zM403.33 295.02H408.66V300.34H403.33zM350.01 300.34H360.67V305.67H350.01zM350.01 305.67H360.67V310.99H350.01zM408.66 305.67H413.99V310.99H408.66zM350.01 310.99H360.67V316.32H350.01zM355.34 316.32H360.67V321.65H355.34zM355.34 321.65H360.67V326.97H355.34zM413.99 321.65H419.33V326.97H413.99zM355.34 326.97H360.67V332.3H355.34zM413.99 326.97H419.33V332.3H413.99zM355.34 332.3H360.67V337.62H355.34zM419.33 337.62H424.66V342.95H419.33zM350.01 342.95H355.34V348.27H350.01zM424.66 342.95H429.99V348.27H424.66zM350.01 348.27H355.34V353.6H350.01zM429.99 348.27H435.32V353.6H429.99zM499.31 348.27H515.3V353.6H499.31zM525.97 348.27H541.96V353.6H525.97z"/><path fill="#c2c2ff" d="M94.06 39.38H99.4V44.7H94.06zM302.02 39.38H312.68V44.7H302.02zM339.34 39.38H344.68V44.7H339.34zM280.69 44.7H286.02V50.03H280.69zM270.02 50.03H275.36V55.35H270.02zM259.36 55.35H264.69V60.68H259.36zM408.66 60.68H413.99V66.01H408.66zM232.7 71.33H238.03V76.66H232.7zM435.32 71.33H440.65V76.66H435.32zM222.04 76.66H227.37V81.98H222.04zM147.39 81.98H152.72V87.31H147.39zM200.71 81.98H206.04V87.31H200.71zM467.31 81.98H472.65V87.31H467.31zM499.31 92.64H504.64V97.96H499.31zM755.25 92.64H760.58V97.96H755.25zM509.97 97.96H515.3V103.29H509.97zM520.64 103.29H525.97V108.61H520.64zM712.59 119.26H717.92V124.59H712.59zM701.93 124.59H707.26V129.92H701.93zM579.29 129.92H584.62V135.24H579.29zM371.34 289.69H392.66V295.02H371.34zM366 295.02H403.33V300.34H366zM360.67 300.34H371.34V305.67H360.67zM403.33 300.34H408.66V305.67H403.33zM360.67 305.67H371.34V310.99H360.67zM360.67 310.99H366V316.32H360.67zM408.66 310.99H413.99V316.32H408.66zM360.67 316.32H366V321.65H360.67zM408.66 316.32H413.99V321.65H408.66zM360.67 321.65H366V326.97H360.67zM360.67 326.97H366V332.3H360.67zM413.99 332.3H419.33V337.62H413.99zM355.34 337.62H360.67V342.95H355.34zM355.34 342.95H360.67V348.27H355.34zM419.33 342.95H424.66V348.27H419.33zM355.34 348.27H360.67V353.6H355.34zM424.66 348.27H429.99V353.6H424.66zM515.3 348.27H525.97V353.6H515.3z"/><path fill="#c7c7ff" d="M296.69 39.38H302.02V44.7H296.69zM344.68 39.38H355.34V44.7H344.68zM371.34 44.7H376.67V50.03H371.34zM387.33 50.03H392.66V55.35H387.33zM398 55.35H403.33V60.68H398zM248.7 60.68H254.03V66.01H248.7zM776.58 71.33H781.91V76.66H776.58zM216.7 76.66H222.04V81.98H216.7zM451.32 76.66H456.65V81.98H451.32zM195.38 81.98H200.71V87.31H195.38zM472.65 81.98H477.98V87.31H472.65zM488.64 87.31H493.98V92.64H488.64zM531.3 108.61H536.63V113.94H531.3zM563.29 124.59H568.62V129.92H563.29zM680.6 129.92H685.93V135.24H680.6zM371.34 300.34H403.33V305.67H371.34zM371.34 305.67H382V310.99H371.34zM398 305.67H408.66V310.99H398zM366 310.99H376.67V316.32H366zM403.33 310.99H408.66V316.32H403.33zM366 316.32H371.34V321.65H366zM366 321.65H371.34V326.97H366zM408.66 321.65H413.99V326.97H408.66zM408.66 326.97H413.99V332.3H408.66zM360.67 332.3H366V337.62H360.67zM360.67 337.62H366V342.95H360.67zM413.99 337.62H419.33V342.95H413.99zM360.67 342.95H366V348.27H360.67zM413.99 342.95H419.33V348.27H413.99zM419.33 348.27H424.66V353.6H419.33z"/><path fill="#ccccff" d="M291.35 39.38H296.69V44.7H291.35zM355.34 39.38H360.67V44.7H355.34zM376.67 44.7H382V50.03H376.67zM238.03 66.01H243.36V71.33H238.03zM424.66 66.01H429.99V71.33H424.66zM771.25 71.33H776.58V76.66H771.25zM152.72 81.98H158.05V87.31H152.72zM190.04 81.98H195.38V87.31H190.04zM760.58 87.31H765.91V92.64H760.58zM739.25 97.96H744.59V103.29H739.25zM541.96 113.94H547.3V119.26H541.96zM717.92 113.94H723.26V119.26H717.92zM552.63 119.26H557.96V124.59H552.63zM584.62 129.92H589.95V135.24H584.62zM675.27 129.92H680.6V135.24H675.27zM382 305.67H398V310.99H382zM376.67 310.99H387.33V316.32H376.67zM398 310.99H403.33V316.32H398zM371.34 316.32H382V321.65H371.34zM403.33 316.32H408.66V321.65H403.33zM371.34 321.65H376.67V326.97H371.34zM403.33 321.65H408.66V326.97H403.33zM366 326.97H376.67V332.3H366zM366 332.3H371.34V337.62H366zM408.66 332.3H413.99V337.62H408.66zM366 337.62H371.34V342.95H366zM408.66 337.62H413.99V342.95H408.66zM366 342.95H371.34V348.27H366zM408.66 342.95H413.99V348.27H408.66zM360.67 348.27H366V353.6H360.67zM413.99 348.27H419.33V353.6H413.99z"/><path fill="#d1d1ff" d="M360.67 39.38H366V44.7H360.67zM275.36 44.7H280.69V50.03H275.36zM264.69 50.03H270.02V55.35H264.69zM392.66 50.03H398V55.35H392.66zM254.03 55.35H259.36V60.68H254.03zM403.33 55.35H408.66V60.68H403.33zM413.99 60.68H419.33V66.01H413.99zM227.37 71.33H232.7V76.66H227.37zM440.65 71.33H445.99V76.66H440.65zM142.05 76.66H147.39V81.98H142.05zM211.37 76.66H216.7V81.98H211.37zM456.65 76.66H461.98V81.98H456.65zM158.05 81.98H163.38V87.31H158.05zM184.71 81.98H190.04V87.31H184.71zM477.98 81.98H483.31V87.31H477.98zM765.91 81.98H771.25V87.31H765.91zM493.98 87.31H499.31V92.64H493.98zM504.64 92.64H509.97V97.96H504.64zM515.3 97.96H520.64V103.29H515.3zM723.26 108.61H728.59V113.94H723.26zM589.95 129.92H595.29V135.24H589.95zM669.94 129.92H675.27V135.24H669.94zM387.33 310.99H398V316.32H387.33zM382 316.32H403.33V321.65H382zM376.67 321.65H387.33V326.97H376.67zM398 321.65H403.33V326.97H398zM376.67 326.97H382V332.3H376.67zM403.33 326.97H408.66V332.3H403.33zM371.34 332.3H376.67V337.62H371.34zM403.33 332.3H408.66V337.62H403.33zM371.34 337.62H376.67V342.95H371.34zM403.33 337.62H408.66V342.95H403.33zM371.34 342.95H376.67V348.27H371.34zM366 348.27H371.34V353.6H366zM408.66 348.27H413.99V353.6H408.66z"/><path fill="#d6d6ff" d="M286.02 39.38H291.35V44.7H286.02zM104.73 44.7H110.06V50.03H104.73zM382 44.7H387.33V50.03H382zM243.36 60.68H248.7V66.01H243.36zM429.99 66.01H435.32V71.33H429.99zM776.58 66.01H781.91V71.33H776.58zM206.04 76.66H211.37V81.98H206.04zM461.98 76.66H467.31V81.98H461.98zM163.38 81.98H168.71V87.31H163.38zM174.05 81.98H184.71V87.31H174.05zM749.92 92.64H755.25V97.96H749.92zM525.97 103.29H531.3V108.61H525.97zM728.59 103.29H733.92V108.61H728.59zM568.62 124.59H573.96V129.92H568.62zM696.6 124.59H701.93V129.92H696.6zM595.29 129.92H605.95V135.24H595.29zM653.94 129.92H669.94V135.24H653.94zM387.33 321.65H398V326.97H387.33zM382 326.97H403.33V332.3H382zM376.67 332.3H403.33V337.62H376.67zM376.67 337.62H387.33V342.95H376.67zM398 337.62H403.33V342.95H398zM376.67 342.95H382V348.27H376.67zM398 342.95H408.66V348.27H398zM371.34 348.27H382V353.6H371.34zM403.33 348.27H408.66V353.6H403.33z"/><path fill="#dbdbff" d="M94.06 34.05H99.4V39.38H94.06zM307.35 34.05H339.34V39.38H307.35zM99.4 39.38H104.73V44.7H99.4zM366 39.38H371.34V44.7H366zM270.02 44.7H275.36V50.03H270.02zM259.36 50.03H264.69V55.35H259.36zM419.33 60.68H424.66V66.01H419.33zM232.7 66.01H238.03V71.33H232.7zM771.25 66.01H776.58V71.33H771.25zM222.04 71.33H227.37V76.66H222.04zM445.99 71.33H451.32V76.66H445.99zM147.39 76.66H152.72V81.98H147.39zM168.71 81.98H174.05V87.31H168.71zM483.31 81.98H488.64V87.31H483.31zM536.63 108.61H541.96V113.94H536.63zM547.3 113.94H552.63V119.26H547.3zM557.96 119.26H563.29V124.59H557.96zM707.26 119.26H712.59V124.59H707.26zM605.95 129.92H653.94V135.24H605.95zM387.33 337.62H398V342.95H387.33zM382 342.95H398V348.27H382zM382 348.27H403.33V353.6H382z"/><path fill="#e0e0ff" d="M302.02 34.05H307.35V39.38H302.02zM339.34 34.05H350.01V39.38H339.34zM280.69 39.38H286.02V44.7H280.69zM371.34 39.38H376.67V44.7H371.34zM387.33 44.7H392.66V50.03H387.33zM398 50.03H403.33V55.35H398zM248.7 55.35H254.03V60.68H248.7zM408.66 55.35H413.99V60.68H408.66zM776.58 60.68H781.91V66.01H776.58zM435.32 66.01H440.65V71.33H435.32zM200.71 76.66H206.04V81.98H200.71zM467.31 76.66H472.65V81.98H467.31zM499.31 87.31H504.64V92.64H499.31zM509.97 92.64H515.3V97.96H509.97zM520.64 97.96H525.97V103.29H520.64zM733.92 97.96H739.25V103.29H733.92zM573.96 124.59H579.29V129.92H573.96zM691.26 124.59H696.6V129.92H691.26z"/><path fill="#e6e6ff" d="M296.69 34.05H302.02V39.38H296.69zM350.01 34.05H355.34V39.38H350.01zM238.03 60.68H243.36V66.01H238.03zM424.66 60.68H429.99V66.01H424.66zM216.7 71.33H222.04V76.66H216.7zM451.32 71.33H456.65V76.66H451.32zM195.38 76.66H200.71V81.98H195.38zM488.64 81.98H493.98V87.31H488.64zM531.3 103.29H536.63V108.61H531.3z"/><path fill="#ebebff" d="M291.35 34.05H296.69V39.38H291.35zM355.34 34.05H360.67V39.38H355.34zM275.36 39.38H280.69V44.7H275.36zM376.67 39.38H382V44.7H376.67zM110.06 44.7H115.39V50.03H110.06zM264.69 44.7H270.02V50.03H264.69zM115.39 50.03H120.73V55.35H115.39zM254.03 50.03H259.36V55.35H254.03zM403.33 50.03H408.66V55.35H403.33zM413.99 55.35H419.33V60.68H413.99zM227.37 66.01H232.7V71.33H227.37zM142.05 71.33H147.39V76.66H142.05zM152.72 76.66H158.05V81.98H152.72zM190.04 76.66H195.38V81.98H190.04zM472.65 76.66H477.98V81.98H472.65zM765.91 76.66H771.25V81.98H765.91zM755.25 87.31H760.58V92.64H755.25zM744.59 92.64H749.92V97.96H744.59zM541.96 108.61H547.3V113.94H541.96zM552.63 113.94H557.96V119.26H552.63zM712.59 113.94H717.92V119.26H712.59zM563.29 119.26H568.62V124.59H563.29zM579.29 124.59H584.62V129.92H579.29zM685.93 124.59H691.26V129.92H685.93z"/><path fill="#f0f0ff" d="M99.4 34.05H104.73V39.38H99.4zM286.02 34.05H291.35V39.38H286.02zM360.67 34.05H366V39.38H360.67zM104.73 39.38H110.06V44.7H104.73zM392.66 44.7H398V50.03H392.66zM243.36 55.35H248.7V60.68H243.36zM440.65 66.01H445.99V71.33H440.65zM211.37 71.33H216.7V76.66H211.37zM456.65 71.33H461.98V76.66H456.65zM158.05 76.66H163.38V81.98H158.05zM184.71 76.66H190.04V81.98H184.71zM504.64 87.31H509.97V92.64H504.64zM515.3 92.64H520.64V97.96H515.3zM701.93 119.26H707.26V124.59H701.93z"/><path fill="#f5f5ff" d="M312.68 28.73H334.01V34.05H312.68zM366 34.05H371.34V39.38H366zM270.02 39.38H275.36V44.7H270.02zM382 39.38H387.33V44.7H382zM259.36 44.7H264.69V50.03H259.36zM781.91 55.35H787.24V60.68H781.91zM232.7 60.68H238.03V66.01H232.7zM429.99 60.68H435.32V66.01H429.99zM771.25 60.68H776.58V66.01H771.25zM206.04 71.33H211.37V76.66H206.04zM163.38 76.66H168.71V81.98H163.38zM174.05 76.66H184.71V81.98H174.05zM477.98 76.66H483.31V81.98H477.98zM493.98 81.98H499.31V87.31H493.98zM760.58 81.98H765.91V87.31H760.58zM525.97 97.96H531.3V103.29H525.97zM723.26 103.29H728.59V108.61H723.26zM717.92 108.61H723.26V113.94H717.92zM584.62 124.59H589.95V129.92H584.62zM680.6 124.59H685.93V129.92H680.6z"/><path fill="#fafaff" d="M302.02 28.73H312.68V34.05H302.02zM334.01 28.73H344.68V34.05H334.01zM280.69 34.05H286.02V39.38H280.69zM398 44.7H403.33V50.03H398zM248.7 50.03H254.03V55.35H248.7zM408.66 50.03H413.99V55.35H408.66zM126.06 55.35H131.39V60.68H126.06zM419.33 55.35H424.66V60.68H419.33zM222.04 66.01H227.37V71.33H222.04zM445.99 66.01H451.32V71.33H445.99zM147.39 71.33H152.72V76.66H147.39zM200.71 71.33H206.04V76.66H200.71zM461.98 71.33H467.31V76.66H461.98zM765.91 71.33H771.25V76.66H765.91zM168.71 76.66H174.05V81.98H168.71zM739.25 92.64H744.59V97.96H739.25zM728.59 97.96H733.92V103.29H728.59zM536.63 103.29H541.96V108.61H536.63zM568.62 119.26H573.96V124.59H568.62zM589.95 124.59H595.29V129.92H589.95zM675.27 124.59H680.6V129.92H675.27z"/><path fill="#ffffff" d="M344.68 28.73H350.01V34.05H344.68zM371.34 34.05H376.67V39.38H371.34zM387.33 39.38H392.66V44.7H387.33zM120.73 50.03H126.06V55.35H120.73zM238.03 55.35H243.36V60.68H238.03zM776.58 55.35H781.91V60.68H776.58zM483.31 76.66H488.64V81.98H483.31zM499.31 81.98H504.64V87.31H499.31zM509.97 87.31H515.3V92.64H509.97zM547.3 108.61H552.63V113.94H547.3zM557.96 113.94H563.29V119.26H557.96zM595.29 124.59H600.62V129.92H595.29z"/><path fill="#fffafa" d="M296.69 28.73H302.02V34.05H296.69zM115.39 44.7H120.73V50.03H115.39zM435.32 60.68H440.65V66.01H435.32zM216.7 66.01H222.04V71.33H216.7zM195.38 71.33H200.71V76.66H195.38zM749.92 87.31H755.25V92.64H749.92zM520.64 92.64H525.97V97.96H520.64zM696.6 119.26H701.93V124.59H696.6zM600.62 124.59H605.95V129.92H600.62zM664.6 124.59H675.27V129.92H664.6z"/><path fill="#fff5f5" d="M110.06 39.38H115.39V44.7H110.06zM264.69 39.38H270.02V44.7H264.69zM227.37 60.68H232.7V66.01H227.37zM142.05 66.01H147.39V71.33H142.05zM765.91 66.01H771.25V71.33H765.91zM467.31 71.33H472.65V76.66H467.31zM707.26 113.94H712.59V119.26H707.26zM605.95 124.59H616.61V129.92H605.95zM643.27 124.59H664.6V129.92H643.27z"/><path fill="#fff0f0" d="M350.01 28.73H355.34V34.05H350.01zM104.73 34.05H110.06V39.38H104.73zM275.36 34.05H280.69V39.38H275.36zM254.03 44.7H259.36V50.03H254.03zM152.72 71.33H158.05V76.66H152.72zM190.04 71.33H195.38V76.66H190.04zM733.92 92.64H739.25V97.96H733.92zM573.96 119.26H579.29V124.59H573.96zM616.61 124.59H643.27V129.92H616.61z"/><path fill="#ffebeb" d="M291.35 28.73H296.69V34.05H291.35zM243.36 50.03H248.7V55.35H243.36zM424.66 55.35H429.99V60.68H424.66zM451.32 66.01H456.65V71.33H451.32zM760.58 76.66H765.91V81.98H760.58zM755.25 81.98H760.58V87.31H755.25zM531.3 97.96H536.63V103.29H531.3zM712.59 108.61H717.92V113.94H712.59zM691.26 119.26H696.6V124.59H691.26z"/><path fill="#ffe5e5" d="M376.67 34.05H382V39.38H376.67zM136.72 60.68H142.05V66.01H136.72zM211.37 66.01H216.7V71.33H211.37zM184.71 71.33H190.04V76.66H184.71zM488.64 76.66H493.98V81.98H488.64zM744.59 87.31H749.92V92.64H744.59zM717.92 103.29H723.26V108.61H717.92z"/><path fill="#ffe0e0" d="M355.34 28.73H360.67V34.05H355.34zM403.33 44.7H408.66V50.03H403.33zM413.99 50.03H419.33V55.35H413.99zM131.39 55.35H136.72V60.68H131.39zM158.05 71.33H163.38V76.66H158.05zM723.26 97.96H728.59V103.29H723.26zM541.96 103.29H547.3V108.61H541.96zM563.29 113.94H568.62V119.26H563.29zM701.93 113.94H707.26V119.26H701.93zM579.29 119.26H584.62V124.59H579.29zM685.93 119.26H691.26V124.59H685.93z"/><path fill="#ffdbdb" d="M392.66 39.38H398V44.7H392.66zM126.06 50.03H131.39V55.35H126.06zM232.7 55.35H238.03V60.68H232.7zM771.25 55.35H776.58V60.68H771.25zM765.91 60.68H771.25V66.01H765.91zM179.38 71.33H184.71V76.66H179.38zM472.65 71.33H477.98V76.66H472.65zM552.63 108.61H557.96V113.94H552.63z"/><path fill="#ffd6d6" d="M120.73 44.7H126.06V50.03H120.73zM222.04 60.68H227.37V66.01H222.04zM206.04 66.01H211.37V71.33H206.04zM163.38 71.33H168.71V76.66H163.38zM739.25 87.31H744.59V92.64H739.25zM728.59 92.64H733.92V97.96H728.59zM680.6 119.26H685.93V124.59H680.6z"/><path fill="#ffd1d1" d="M286.02 28.73H291.35V34.05H286.02zM270.02 34.05H275.36V39.38H270.02zM259.36 39.38H264.69V44.7H259.36zM248.7 44.7H254.03V50.03H248.7zM440.65 60.68H445.99V66.01H440.65zM147.39 66.01H152.72V71.33H147.39zM168.71 71.33H179.38V76.66H168.71zM760.58 71.33H765.91V76.66H760.58zM504.64 81.98H509.97V87.31H504.64zM515.3 87.31H520.64V92.64H515.3zM584.62 119.26H589.95V124.59H584.62zM675.27 119.26H680.6V124.59H675.27z"/><path fill="#ffcccc" d="M360.67 28.73H366V34.05H360.67zM115.39 39.38H120.73V44.7H115.39zM200.71 66.01H206.04V71.33H200.71zM456.65 66.01H461.98V71.33H456.65zM749.92 81.98H755.25V87.31H749.92zM707.26 108.61H712.59V113.94H707.26zM696.6 113.94H701.93V119.26H696.6zM669.94 119.26H675.27V124.59H669.94z"/><path fill="#ffc7c7" d="M110.06 34.05H115.39V39.38H110.06zM238.03 50.03H243.36V55.35H238.03zM525.97 92.64H531.3V97.96H525.97zM568.62 113.94H573.96V119.26H568.62zM589.95 119.26H595.29V124.59H589.95zM664.6 119.26H669.94V124.59H664.6z"/><path fill="#ffc2c2" d="M104.73 28.73H110.06V34.05H104.73zM382 34.05H387.33V39.38H382zM227.37 55.35H232.7V60.68H227.37zM429.99 55.35H435.32V60.68H429.99zM142.05 60.68H147.39V66.01H142.05zM216.7 60.68H222.04V66.01H216.7zM195.38 66.01H200.71V71.33H195.38zM760.58 66.01H765.91V71.33H760.58zM477.98 71.33H483.31V76.66H477.98zM493.98 76.66H499.31V81.98H493.98zM755.25 76.66H760.58V81.98H755.25zM733.92 87.31H739.25V92.64H733.92zM536.63 97.96H541.96V103.29H536.63zM717.92 97.96H723.26V103.29H717.92zM712.59 103.29H717.92V108.61H712.59zM595.29 119.26H600.62V124.59H595.29zM637.94 119.26H664.6V124.59H637.94z"/><path fill="#ffbdbd" d="M99.4 23.4H104.73V28.73H99.4zM280.69 28.73H286.02V34.05H280.69zM547.3 103.29H552.63V108.61H547.3zM557.96 108.61H563.29V113.94H557.96zM691.26 113.94H696.6V119.26H691.26zM600.62 119.26H611.28V124.59H600.62zM621.95 119.26H637.94V124.59H621.95z"/><path fill="#ffb8b8" d="M318.01 23.4H328.68V28.73H318.01zM366 28.73H371.34V34.05H366zM776.58 50.03H787.24V55.35H776.58zM136.72 55.35H142.05V60.68H136.72zM765.91 55.35H771.25V60.68H765.91zM152.72 66.01H158.05V71.33H152.72zM744.59 81.98H749.92V87.31H744.59zM723.26 92.64H728.59V97.96H723.26zM611.28 119.26H621.95V124.59H611.28z"/><path fill="#ffb2b2" d="M312.68 23.4H318.01V28.73H312.68zM328.68 23.4H334.01V28.73H328.68zM264.69 34.05H270.02V39.38H264.69zM254.03 39.38H259.36V44.7H254.03zM243.36 44.7H248.7V50.03H243.36zM408.66 44.7H413.99V50.03H408.66zM131.39 50.03H136.72V55.35H131.39zM419.33 50.03H424.66V55.35H419.33zM190.04 66.01H195.38V71.33H190.04zM701.93 108.61H707.26V113.94H701.93z"/><path fill="#ffadad" d="M307.35 23.4H312.68V28.73H307.35zM334.01 23.4H339.34V28.73H334.01zM398 39.38H403.33V44.7H398zM126.06 44.7H131.39V50.03H126.06zM211.37 60.68H216.7V66.01H211.37zM445.99 60.68H451.32V66.01H445.99zM760.58 60.68H765.91V66.01H760.58zM461.98 66.01H467.31V71.33H461.98zM573.96 113.94H579.29V119.26H573.96zM685.93 113.94H691.26V119.26H685.93z"/><path fill="#ffa8a8" d="M120.73 39.38H126.06V44.7H120.73zM232.7 50.03H238.03V55.35H232.7zM771.25 50.03H776.58V55.35H771.25zM158.05 66.01H163.38V71.33H158.05zM184.71 66.01H190.04V71.33H184.71zM728.59 87.31H733.92V92.64H728.59z"/><path fill="#ffa3a3" d="M302.02 23.4H307.35V28.73H302.02zM339.34 23.4H344.68V28.73H339.34zM275.36 28.73H280.69V34.05H275.36zM115.39 34.05H120.73V39.38H115.39zM222.04 55.35H227.37V60.68H222.04zM483.31 71.33H488.64V76.66H483.31zM755.25 71.33H760.58V76.66H755.25zM749.92 76.66H755.25V81.98H749.92zM509.97 81.98H515.3V87.31H509.97zM739.25 81.98H744.59V87.31H739.25zM520.64 87.31H525.97V92.64H520.64zM707.26 103.29H712.59V108.61H707.26zM680.6 113.94H685.93V119.26H680.6z"/><path fill="#ff9e9e" d="M110.06 28.73H115.39V34.05H110.06zM371.34 28.73H376.67V34.05H371.34zM387.33 34.05H392.66V39.38H387.33zM787.24 50.03H792.58V55.35H787.24zM147.39 60.68H152.72V66.01H147.39zM206.04 60.68H211.37V66.01H206.04zM179.38 66.01H184.71V71.33H179.38zM499.31 76.66H504.64V81.98H499.31zM531.3 92.64H536.63V97.96H531.3zM712.59 97.96H717.92V103.29H712.59zM563.29 108.61H568.62V113.94H563.29zM579.29 113.94H584.62V119.26H579.29zM675.27 113.94H680.6V119.26H675.27z"/><path fill="#ff9999" d="M104.73 23.4H110.06V28.73H104.73zM344.68 23.4H350.01V28.73H344.68zM435.32 55.35H440.65V60.68H435.32zM163.38 66.01H168.71V71.33H163.38zM174.05 66.01H179.38V71.33H174.05zM717.92 92.64H723.26V97.96H717.92zM541.96 97.96H547.3V103.29H541.96zM552.63 103.29H557.96V108.61H552.63zM696.6 108.61H701.93V113.94H696.6zM669.94 113.94H675.27V119.26H669.94z"/><path fill="#ff9494" d="M296.69 23.4H302.02V28.73H296.69zM259.36 34.05H264.69V39.38H259.36zM248.7 39.38H254.03V44.7H248.7zM238.03 44.7H243.36V50.03H238.03zM142.05 55.35H147.39V60.68H142.05zM760.58 55.35H765.91V60.68H760.58zM168.71 66.01H174.05V71.33H168.71zM664.6 113.94H669.94V119.26H664.6z"/><path fill="#ff8f8f" d="M227.37 50.03H232.7V55.35H227.37zM765.91 50.03H771.25V55.35H765.91zM792.58 50.03H797.91V55.35H792.58zM200.71 60.68H206.04V66.01H200.71zM467.31 66.01H472.65V71.33H467.31zM755.25 66.01H760.58V71.33H755.25zM733.92 81.98H739.25V87.31H733.92zM723.26 87.31H728.59V92.64H723.26zM584.62 113.94H589.95V119.26H584.62zM637.94 113.94H664.6V119.26H637.94z"/><path fill="#ff8a8a" d="M291.35 23.4H296.69V28.73H291.35zM350.01 23.4H355.34V28.73H350.01zM270.02 28.73H275.36V34.05H270.02zM136.72 50.03H142.05V55.35H136.72zM424.66 50.03H429.99V55.35H424.66zM216.7 55.35H222.04V60.68H216.7zM451.32 60.68H456.65V66.01H451.32zM744.59 76.66H749.92V81.98H744.59zM691.26 108.61H696.6V113.94H691.26zM589.95 113.94H595.29V119.26H589.95zM632.61 113.94H637.94V119.26H632.61z"/><path fill="#ff8585" d="M131.39 44.7H136.72V50.03H131.39zM413.99 44.7H419.33V50.03H413.99zM152.72 60.68H158.05V66.01H152.72zM195.38 60.68H200.71V66.01H195.38zM488.64 71.33H493.98V76.66H488.64zM701.93 103.29H707.26V108.61H701.93zM568.62 108.61H573.96V113.94H568.62zM595.29 113.94H600.62V119.26H595.29zM621.95 113.94H632.61V119.26H621.95z"/><path fill="#ff8080" d="M376.67 28.73H382V34.05H376.67zM126.06 39.38H131.39V44.7H126.06zM403.33 39.38H408.66V44.7H403.33zM755.25 60.68H760.58V66.01H755.25zM600.62 113.94H621.95V119.26H600.62z"/><path fill="#ff7a7a" d="M286.02 23.4H291.35V28.73H286.02zM355.34 23.4H360.67V28.73H355.34zM120.73 34.05H126.06V39.38H120.73zM392.66 34.05H398V39.38H392.66zM190.04 60.68H195.38V66.01H190.04zM749.92 71.33H755.25V76.66H749.92zM728.59 81.98H733.92V87.31H728.59zM707.26 97.96H712.59V103.29H707.26zM685.93 108.61H691.26V113.94H685.93z"/><path fill="#ff7575" d="M115.39 28.73H120.73V34.05H115.39zM254.03 34.05H259.36V39.38H254.03zM243.36 39.38H248.7V44.7H243.36zM232.7 44.7H238.03V50.03H232.7zM760.58 50.03H765.91V55.35H760.58zM797.91 50.03H803.24V55.35H797.91zM211.37 55.35H216.7V60.68H211.37zM472.65 66.01H477.98V71.33H472.65zM504.64 76.66H509.97V81.98H504.64zM739.25 76.66H744.59V81.98H739.25zM515.3 81.98H520.64V87.31H515.3zM525.97 87.31H531.3V92.64H525.97zM536.63 92.64H541.96V97.96H536.63zM712.59 92.64H717.92V97.96H712.59zM557.96 103.29H563.29V108.61H557.96z"/><path fill="#ff7070" d="M110.06 23.4H115.39V28.73H110.06zM771.25 44.7H781.91V50.03H771.25zM222.04 50.03H227.37V55.35H222.04zM147.39 55.35H152.72V60.68H147.39zM440.65 55.35H445.99V60.68H440.65zM184.71 60.68H190.04V66.01H184.71zM717.92 87.31H723.26V92.64H717.92zM547.3 97.96H552.63V103.29H547.3zM680.6 108.61H685.93V113.94H680.6z"/><path fill="#ff6b6b" d="M264.69 28.73H270.02V34.05H264.69zM755.25 55.35H760.58V60.68H755.25zM696.6 103.29H701.93V108.61H696.6zM573.96 108.61H579.29V113.94H573.96zM675.27 108.61H680.6V113.94H675.27z"/><path fill="#ff6666" d="M280.69 23.4H286.02V28.73H280.69zM360.67 23.4H366V28.73H360.67zM142.05 50.03H147.39V55.35H142.05zM803.24 50.03H808.57V55.35H803.24zM206.04 55.35H211.37V60.68H206.04zM179.38 60.68H184.71V66.01H179.38zM456.65 60.68H461.98V66.01H456.65zM723.26 81.98H728.59V87.31H723.26zM669.94 108.61H675.27V113.94H669.94z"/><path fill="#ff6161" d="M382 28.73H387.33V34.05H382zM136.72 44.7H142.05V50.03H136.72zM429.99 50.03H435.32V55.35H429.99zM808.57 50.03H813.9V55.35H808.57zM163.38 60.68H168.71V66.01H163.38zM749.92 66.01H755.25V71.33H749.92zM493.98 71.33H499.31V76.66H493.98zM733.92 76.66H739.25V81.98H733.92zM664.6 108.61H669.94V113.94H664.6z"/><path fill="#ff5c5c" d="M248.7 34.05H254.03V39.38H248.7zM131.39 39.38H136.72V44.7H131.39zM238.03 39.38H243.36V44.7H238.03zM227.37 44.7H232.7V50.03H227.37zM781.91 44.7H787.24V50.03H781.91zM168.71 60.68H179.38V66.01H168.71zM477.98 66.01H483.31V71.33H477.98zM744.59 71.33H749.92V76.66H744.59zM563.29 103.29H568.62V108.61H563.29zM691.26 103.29H696.6V108.61H691.26zM579.29 108.61H584.62V113.94H579.29zM637.94 108.61H664.6V113.94H637.94z"/><path fill="#ff5757" d="M275.36 23.4H280.69V28.73H275.36zM419.33 44.7H424.66V50.03H419.33zM200.71 55.35H206.04V60.68H200.71zM701.93 97.96H707.26V103.29H701.93zM632.61 108.61H637.94V113.94H632.61z"/><path fill="#ff5252" d="M366 23.4H371.34V28.73H366zM259.36 28.73H264.69V34.05H259.36zM126.06 34.05H131.39V39.38H126.06zM398 34.05H403.33V39.38H398zM408.66 39.38H413.99V44.7H408.66zM216.7 50.03H222.04V55.35H216.7zM712.59 87.31H717.92V92.64H712.59zM707.26 92.64H712.59V97.96H707.26zM552.63 97.96H557.96V103.29H552.63zM584.62 108.61H589.95V113.94H584.62zM627.28 108.61H632.61V113.94H627.28z"/><path fill="#ff4d4d" d="M120.73 28.73H126.06V34.05H120.73zM755.25 50.03H760.58V55.35H755.25zM195.38 55.35H200.71V60.68H195.38zM445.99 55.35H451.32V60.68H445.99zM749.92 60.68H755.25V66.01H749.92zM728.59 76.66H733.92V81.98H728.59zM531.3 87.31H536.63V92.64H531.3zM541.96 92.64H547.3V97.96H541.96zM685.93 103.29H691.26V108.61H685.93zM616.61 108.61H627.28V113.94H616.61z"/><path fill="#ff4747" d="M115.39 23.4H120.73V28.73H115.39zM461.98 60.68H467.31V66.01H461.98zM509.97 76.66H515.3V81.98H509.97zM520.64 81.98H525.97V87.31H520.64zM717.92 81.98H723.26V87.31H717.92zM589.95 108.61H600.62V113.94H589.95zM605.95 108.61H616.61V113.94H605.95z"/><path fill="#ff4242" d="M232.7 39.38H238.03V44.7H232.7zM147.39 50.03H152.72V55.35H147.39zM190.04 55.35H195.38V60.68H190.04zM739.25 71.33H744.59V76.66H739.25zM568.62 103.29H573.96V108.61H568.62zM680.6 103.29H685.93V108.61H680.6zM600.62 108.61H605.95V113.94H600.62z"/><path fill="#ff3d3d" d="M270.02 23.4H275.36V28.73H270.02zM387.33 28.73H392.66V34.05H387.33zM243.36 34.05H248.7V39.38H243.36zM222.04 44.7H227.37V50.03H222.04zM211.37 50.03H216.7V55.35H211.37zM749.92 55.35H755.25V60.68H749.92zM483.31 66.01H488.64V71.33H483.31zM499.31 71.33H504.64V76.66H499.31zM696.6 97.96H701.93V103.29H696.6z"/><path fill="#ff3838" d="M371.34 23.4H376.67V28.73H371.34zM254.03 28.73H259.36V34.05H254.03zM142.05 44.7H147.39V50.03H142.05zM435.32 50.03H440.65V55.35H435.32zM723.26 76.66H728.59V81.98H723.26zM675.27 103.29H680.6V108.61H675.27z"/><path fill="#ff3333" d="M136.72 39.38H142.05V44.7H136.72zM765.91 39.38H776.58V44.7H765.91zM787.24 44.7H792.58V50.03H787.24zM158.05 55.35H163.38V60.68H158.05zM184.71 55.35H190.04V60.68H184.71zM701.93 92.64H707.26V97.96H701.93zM557.96 97.96H563.29V103.29H557.96zM669.94 103.29H675.27V108.61H669.94z"/><path fill="#ff2e2e" d="M131.39 34.05H136.72V39.38H131.39zM206.04 50.03H211.37V55.35H206.04zM467.31 60.68H472.65V66.01H467.31zM744.59 66.01H749.92V71.33H744.59zM733.92 71.33H739.25V76.66H733.92zM707.26 87.31H712.59V92.64H707.26zM573.96 103.29H579.29V108.61H573.96zM659.27 103.29H669.94V108.61H659.27z"/><path fill="#ff2929" d="M264.69 23.4H270.02V28.73H264.69zM126.06 28.73H131.39V34.05H126.06zM227.37 39.38H232.7V44.7H227.37zM760.58 39.38H765.91V44.7H760.58zM424.66 44.7H429.99V50.03H424.66zM755.25 44.7H760.58V50.03H755.25zM179.38 55.35H184.71V60.68H179.38zM712.59 81.98H717.92V87.31H712.59zM547.3 92.64H552.63V97.96H547.3zM691.26 97.96H696.6V103.29H691.26zM637.94 103.29H659.27V108.61H637.94z"/><path fill="#ff2424" d="M120.73 23.4H126.06V28.73H120.73zM238.03 34.05H243.36V39.38H238.03zM403.33 34.05H408.66V39.38H403.33zM413.99 39.38H419.33V44.7H413.99zM776.58 39.38H781.91V44.7H776.58zM163.38 55.35H168.71V60.68H163.38zM174.05 55.35H179.38V60.68H174.05zM451.32 55.35H456.65V60.68H451.32zM536.63 87.31H541.96V92.64H536.63zM632.61 103.29H637.94V108.61H632.61z"/><path fill="#ff1f1f" d="M248.7 28.73H254.03V34.05H248.7zM216.7 44.7H222.04V50.03H216.7zM792.58 44.7H797.91V50.03H792.58zM152.72 50.03H158.05V55.35H152.72zM200.71 50.03H206.04V55.35H200.71zM168.71 55.35H174.05V60.68H168.71zM744.59 60.68H749.92V66.01H744.59zM488.64 66.01H493.98V71.33H488.64zM728.59 71.33H733.92V76.66H728.59zM717.92 76.66H723.26V81.98H717.92zM525.97 81.98H531.3V87.31H525.97zM627.28 103.29H632.61V108.61H627.28z"/><path fill="#ff1a1a" d="M376.67 23.4H382V28.73H376.67zM392.66 28.73H398V34.05H392.66zM515.3 76.66H520.64V81.98H515.3zM685.93 97.96H691.26V103.29H685.93zM579.29 103.29H584.62V108.61H579.29zM621.95 103.29H627.28V108.61H621.95z"/><path fill="#ff1414" d="M147.39 44.7H152.72V50.03H147.39zM739.25 66.01H744.59V71.33H739.25zM504.64 71.33H509.97V76.66H504.64zM696.6 92.64H701.93V97.96H696.6zM563.29 97.96H568.62V103.29H563.29zM616.61 103.29H621.95V108.61H616.61z"/><path fill="#ff0f0f" d="M259.36 23.4H264.69V28.73H259.36zM232.7 34.05H238.03V39.38H232.7zM195.38 50.03H200.71V55.35H195.38zM440.65 50.03H445.99V55.35H440.65zM472.65 60.68H477.98V66.01H472.65zM680.6 97.96H685.93V103.29H680.6zM584.62 103.29H589.95V108.61H584.62zM611.28 103.29H616.61V108.61H611.28z"/><path fill="#ff0a0a" d="M142.05 39.38H147.39V44.7H142.05zM222.04 39.38H227.37V44.7H222.04zM744.59 55.35H749.92V60.68H744.59zM723.26 71.33H728.59V76.66H723.26zM707.26 81.98H712.59V87.31H707.26zM701.93 87.31H707.26V92.64H701.93zM552.63 92.64H557.96V97.96H552.63zM589.95 103.29H595.29V108.61H589.95zM600.62 103.29H611.28V108.61H600.62z"/><path fill="#ff0505" d="M243.36 28.73H248.7V34.05H243.36zM136.72 34.05H142.05V39.38H136.72zM755.25 39.38H760.58V44.7H755.25zM781.91 39.38H787.24V44.7H781.91zM211.37 44.7H216.7V50.03H211.37zM749.92 44.7H755.25V50.03H749.92zM797.91 44.7H803.24V50.03H797.91zM190.04 50.03H195.38V55.35H190.04zM456.65 55.35H461.98V60.68H456.65zM675.27 97.96H680.6V103.29H675.27zM595.29 103.29H600.62V108.61H595.29z"/><path fill="#ff0000" d="M126.06 23.4H259.36V28.73H126.06zM382 23.4H829.9V28.73H382zM131.39 28.73H243.36V34.05H131.39zM398 28.73H829.9V34.05H398zM142.05 34.05H232.7V39.38H142.05zM408.66 34.05H829.9V39.38H408.66zM147.39 39.38H222.04V44.7H147.39zM419.33 39.38H755.25V44.7H419.33zM787.24 39.38H829.9V44.7H787.24zM152.72 44.7H211.37V50.03H152.72zM429.99 44.7H749.92V50.03H429.99zM803.24 44.7H824.57V50.03H803.24zM158.05 50.03H190.04V55.35H158.05zM445.99 50.03H749.92V55.35H445.99zM461.98 55.35H744.59V60.68H461.98zM477.98 60.68H744.59V66.01H477.98zM493.98 66.01H739.25V71.33H493.98zM509.97 71.33H723.26V76.66H509.97zM520.64 76.66H717.92V81.98H520.64zM531.3 81.98H707.26V87.31H531.3zM541.96 87.31H701.93V92.64H541.96zM557.96 92.64H696.6V97.96H557.96zM568.62 97.96H675.27V103.29H568.62z"/></g>
<use href="#land" fill="none" stroke="#000" stroke-width="2.6" stroke-linejoin="round"/>
<g stroke="#000" stroke-width="2.7">
<circle cx="165.1" cy="70.1" r="6.25" fill="#000"/>
<circle cx="154.8" cy="64.2" r="6.25" fill="#000"/>
<circle cx="161.5" cy="64.6" r="6.25" fill="#000"/>
<circle cx="157.7" cy="60.6" r="6.25" fill="#000"/>
<circle cx="158.8" cy="58.7" r="6.25" fill="#000"/>
<circle cx="160.8" cy="56.6" r="6.25" fill="#000"/>
<circle cx="140.7" cy="62" r="6.25" fill="#000"/>
<circle cx="149.7" cy="84.9" r="6.25" fill="#000"/>
<circle cx="146.6" cy="101.6" r="6.25" fill="#000"/>
<circle cx="143.7" cy="115.5" r="6.25" fill="#000"/>
<circle cx="145.5" cy="132.7" r="6.25" fill="#000"/>
<circle cx="150.1" cy="162.9" r="6.25" fill="#000"/>
<circle cx="164.6" cy="174.7" r="6.25" fill="#000"/>
<circle cx="158.2" cy="172.7" r="6.25" fill="#000"/>
<circle cx="169.8" cy="187.3" r="6.25" fill="#000"/>
<circle cx="181.6" cy="202.4" r="6.25" fill="#000"/>
<circle cx="193.3" cy="210.8" r="6.25" fill="#000"/>
<circle cx="207.4" cy="217" r="6.25" fill="#000"/>
<circle cx="205.9" cy="214.9" r="6.25" fill="#000"/>
<circle cx="220.4" cy="228.4" r="6.25" fill="#000"/>
<circle cx="219.4" cy="227.1" r="6.25" fill="#000"/>
<circle cx="434.5" cy="278.7" r="6.25" fill="#000"/>
<circle cx="433.1" cy="299.9" r="6.25" fill="#000"/>
<circle cx="510" cy="265.6" r="6.25" fill="#000"/>
<circle cx="530.1" cy="255.2" r="6.25" fill="#000"/>
<circle cx="540" cy="253.2" r="6.25" fill="#000"/>
<circle cx="563.7" cy="261.2" r="6.25" fill="#000"/>
<circle cx="556" cy="255.8" r="6.25" fill="#000"/>
<circle cx="589" cy="282.5" r="6.25" fill="#000"/>
<circle cx="586.7" cy="279.7" r="6.25" fill="#000"/>
<circle cx="595.8" cy="299.3" r="6.25" fill="#000"/>
<circle cx="595.8" cy="293.7" r="6.25" fill="#000"/>
<circle cx="596.8" cy="315.4" r="6.25" fill="#000"/>
<circle cx="614.9" cy="303" r="6.25" fill="#000"/>
<circle cx="607.1" cy="236" r="6.25" fill="#000"/>
<circle cx="617.5" cy="227.6" r="6.25" fill="#000"/>
<circle cx="628.2" cy="218.5" r="6.25" fill="#000"/>
<circle cx="652.2" cy="207.5" r="6.25" fill="#000"/>
<circle cx="655.3" cy="184" r="6.25" fill="#000"/>
<circle cx="659.7" cy="181.4" r="6.25" fill="#000"/>
<circle cx="654.3" cy="169.3" r="6.25" fill="#000"/>
<circle cx="654.3" cy="161.9" r="6.25" fill="#000"/>
<circle cx="670.3" cy="162.3" r="6.25" fill="#000"/>
<circle cx="681.4" cy="146.2" r="6.25" fill="#000"/>
<circle cx="680.4" cy="143.8" r="6.25" fill="#000"/>
<circle cx="702.4" cy="140.2" r="6.25" fill="#000"/>
<circle cx="699.4" cy="136.6" r="6.25" fill="#000"/>
<circle cx="722.9" cy="137.6" r="6.25" fill="#000"/>
<circle cx="717.5" cy="135.2" r="6.25" fill="#000"/>
<circle cx="707.5" cy="132.2" r="6.25" fill="#000"/>
<circle cx="711.9" cy="126.1" r="6.25" fill="#000"/>
<circle cx="720.5" cy="112.1" r="6.25" fill="#000"/>
<circle cx="742" cy="104.1" r="6.25" fill="#000"/>
<circle cx="755.3" cy="99" r="6.25" fill="#000"/>
</g>
<rect x="83.4" y="23.4" width="746.5" height="329.75" fill="none" stroke="#000" stroke-width="2.8"/>
<text class="t" x="69.0" y="108.85" text-anchor="end">45°N</text>
<text class="t" x="69.0" y="268.85" text-anchor="end">30°N</text>
<text class="t" x="190.3" y="388.6" text-anchor="middle">120°W</text>
<text class="t" x="350.3" y="388.6" text-anchor="middle">105°W</text>
<text class="t" x="509.9" y="388.6" text-anchor="middle">90°W</text>
<text class="t" x="670.6" y="388.6" text-anchor="middle">75°W</text>
<text class="big" x="104.8" y="332.2">b<tspan dx="-1">.</tspan></text>
<rect x="876.6" y="10.6" width="18.2" height="356" fill="url(#bwr)" stroke="#000" stroke-width="2.4"/>
<path d="M894.8 10.6h9.4" stroke="#000" stroke-width="2.4"/>
<text class="t" x="914.3" y="20.9">2</text>
<path d="M894.8 99.6h9.4" stroke="#000" stroke-width="2.4"/>
<text class="t" x="914.3" y="109.9">1</text>
<path d="M894.8 188.6h9.4" stroke="#000" stroke-width="2.4"/>
<text class="t" x="914.3" y="198.9">0</text>
<path d="M894.8 277.6h9.4" stroke="#000" stroke-width="2.4"/>
<text class="t" x="914.3" y="287.9">−1</text>
<path d="M894.8 366.6h9.4" stroke="#000" stroke-width="2.4"/>
<text class="t" x="914.3" y="376.9">−2</text>
<text class="t" transform="translate(989.7 191.3) rotate(-90)" style="font-size:27.9px" text-anchor="middle">mm/y</text>
</g>
<g transform="translate(0 855)">
<use href="#land" fill="#f5f5dc" stroke="#000" stroke-width="2.6" stroke-linejoin="round"/>
<g stroke="#000" stroke-width="2.7">
<circle cx="165.1" cy="70.1" r="6.25" fill="#0000ff"/>
<circle cx="154.8" cy="64.2" r="6.25" fill="#a6a6ff"/>
<circle cx="161.5" cy="64.6" r="6.25" fill="#0000ff"/>
<circle cx="157.7" cy="60.6" r="6.25" fill="#5959ff"/>
<circle cx="158.8" cy="58.7" r="6.25" fill="#4646ff"/>
<circle cx="160.8" cy="56.6" r="6.25" fill="#4646ff"/>
<circle cx="140.7" cy="62" r="6.25" fill="#ff1a1a"/>
<circle cx="149.7" cy="84.9" r="6.25" fill="#ffaaaa"/>
<circle cx="146.6" cy="101.6" r="6.25" fill="#ff6666"/>
<circle cx="143.7" cy="115.5" r="6.25" fill="#ff4d4d"/>
<circle cx="145.5" cy="132.7" r="6.25" fill="#ff0000"/>
<circle cx="150.1" cy="162.9" r="6.25" fill="#ffc8c8"/>
<circle cx="164.6" cy="174.7" r="6.25" fill="#ffd9d9"/>
<circle cx="158.2" cy="172.7" r="6.25" fill="#f5f5ff"/>
<circle cx="169.8" cy="187.3" r="6.25" fill="#ffbfbf"/>
<circle cx="181.6" cy="202.4" r="6.25" fill="#ff2626"/>
<circle cx="193.3" cy="210.8" r="6.25" fill="#ff7979"/>
<circle cx="207.4" cy="217" r="6.25" fill="#ffaaaa"/>
<circle cx="205.9" cy="214.9" r="6.25" fill="#ff2626"/>
<circle cx="220.4" cy="228.4" r="6.25" fill="#bfbfff"/>
<circle cx="219.4" cy="227.1" r="6.25" fill="#bfbfff"/>
<circle cx="434.5" cy="278.7" r="6.25" fill="#1313ff"/>
<circle cx="433.1" cy="299.9" r="6.25" fill="#aaaaff"/>
<circle cx="510" cy="265.6" r="6.25" fill="#0000ff"/>
<circle cx="530.1" cy="255.2" r="6.25" fill="#ccccff"/>
<circle cx="540" cy="253.2" r="6.25" fill="#dfdfff"/>
<circle cx="563.7" cy="261.2" r="6.25" fill="#fff5f5"/>
<circle cx="556" cy="255.8" r="6.25" fill="#d9d9ff"/>
<circle cx="589" cy="282.5" r="6.25" fill="#ffbfbf"/>
<circle cx="586.7" cy="279.7" r="6.25" fill="#c3c3ff"/>
<circle cx="595.8" cy="299.3" r="6.25" fill="#aaaaff"/>
<circle cx="595.8" cy="293.7" r="6.25" fill="#ccccff"/>
<circle cx="596.8" cy="315.4" r="6.25" fill="#9f9fff"/>
<circle cx="614.9" cy="303" r="6.25" fill="#e6e6ff"/>
<circle cx="607.1" cy="236" r="6.25" fill="#ff5353"/>
<circle cx="617.5" cy="227.6" r="6.25" fill="#ffd9d9"/>
<circle cx="628.2" cy="218.5" r="6.25" fill="#7979ff"/>
<circle cx="652.2" cy="207.5" r="6.25" fill="#b2b2ff"/>
<circle cx="655.3" cy="184" r="6.25" fill="#ff7979"/>
<circle cx="659.7" cy="181.4" r="6.25" fill="#ff5353"/>
<circle cx="654.3" cy="169.3" r="6.25" fill="#bfbfff"/>
<circle cx="654.3" cy="161.9" r="6.25" fill="#d2d2ff"/>
<circle cx="670.3" cy="162.3" r="6.25" fill="#ff9999"/>
<circle cx="681.4" cy="146.2" r="6.25" fill="#bfbfff"/>
<circle cx="680.4" cy="143.8" r="6.25" fill="#bfbfff"/>
<circle cx="702.4" cy="140.2" r="6.25" fill="#9393ff"/>
<circle cx="699.4" cy="136.6" r="6.25" fill="#ffffff"/>
<circle cx="722.9" cy="137.6" r="6.25" fill="#ffc8c8"/>
<circle cx="717.5" cy="135.2" r="6.25" fill="#8c8cff"/>
<circle cx="707.5" cy="132.2" r="6.25" fill="#ffffff"/>
<circle cx="711.9" cy="126.1" r="6.25" fill="#dfdfff"/>
<circle cx="720.5" cy="112.1" r="6.25" fill="#f9f9ff"/>
<circle cx="742" cy="104.1" r="6.25" fill="#ccccff"/>
<circle cx="755.3" cy="99" r="6.25" fill="#ffffff"/>
</g>
<rect x="83.4" y="23.4" width="746.5" height="330.2" fill="none" stroke="#000" stroke-width="2.8"/>
<text class="t" x="69.0" y="109.1" text-anchor="end">45°N</text>
<text class="t" x="69.0" y="269.1" text-anchor="end">30°N</text>
<text class="t" x="190.3" y="389.4" text-anchor="middle">120°W</text>
<text class="t" x="350.3" y="389.4" text-anchor="middle">105°W</text>
<text class="t" x="509.9" y="389.4" text-anchor="middle">90°W</text>
<text class="t" x="670.6" y="389.4" text-anchor="middle">75°W</text>
<text class="big" x="104.8" y="332.8">c<tspan dx="-1">.</tspan></text>
<rect x="876.6" y="10.6" width="18.2" height="356" fill="url(#bwr)" stroke="#000" stroke-width="2.4"/>
<path d="M894.8 10.6h9.4" stroke="#000" stroke-width="2.4"/>
<text class="t" x="914.3" y="20.9">2</text>
<path d="M894.8 99.6h9.4" stroke="#000" stroke-width="2.4"/>
<text class="t" x="914.3" y="109.9">1</text>
<path d="M894.8 188.6h9.4" stroke="#000" stroke-width="2.4"/>
<text class="t" x="914.3" y="198.9">0</text>
<path d="M894.8 277.6h9.4" stroke="#000" stroke-width="2.4"/>
<text class="t" x="914.3" y="287.9">−1</text>
<path d="M894.8 366.6h9.4" stroke="#000" stroke-width="2.4"/>
<text class="t" x="914.3" y="376.9">−2</text>
<text class="t" transform="translate(989.7 191.3) rotate(-90)" style="font-size:27.9px" text-anchor="middle">mm/y</text>
</g>
</svg></body></html>
